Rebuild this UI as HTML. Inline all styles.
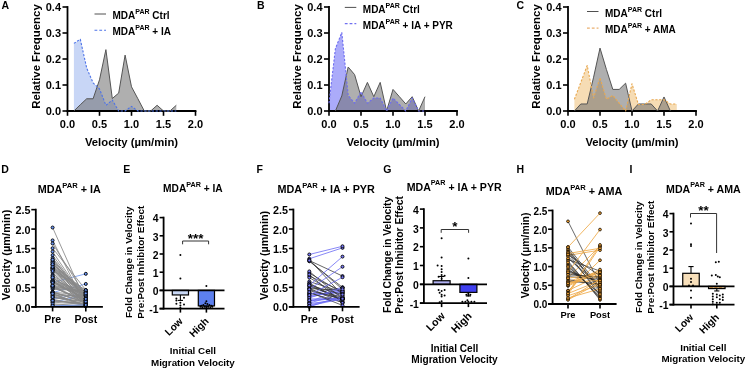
<!DOCTYPE html>
<html><head><meta charset="utf-8"><style>
html,body{margin:0;padding:0;background:#fff;}
svg{display:block;filter:blur(0.35px);}
text{font-family:"Liberation Sans", sans-serif;}
</style></head><body>
<svg width="747" height="370" viewBox="0 0 747 370">
<rect width="747" height="370" fill="#fff"/>
<text x="1.50" y="9.00" font-size="10.5" text-anchor="start" font-weight="bold" fill="#000">A</text>
<polygon points="73.90,111.00 73.90,43.40 80.30,39.24 86.70,68.10 93.10,82.92 99.50,88.90 105.90,105.28 112.30,100.08 118.70,111.00 125.10,111.00 131.50,106.32 137.90,111.00 144.30,111.00 150.70,111.00 157.10,111.00 163.50,111.00 169.90,111.00 176.30,111.00 176.30,111.00" fill="#c8d6f6" fill-opacity="1"/>
<polygon points="73.90,111.00 73.90,111.00 80.30,104.76 86.70,98.78 93.10,98.78 99.50,79.80 105.90,49.64 112.30,98.52 118.70,93.06 125.10,55.10 131.50,86.82 137.90,98.78 144.30,111.00 150.70,111.00 157.10,105.28 163.50,111.00 169.90,111.00 176.30,105.28 176.30,111.00" fill="#6e6e6e" fill-opacity="0.55"/>
<line x1="67.50" y1="111.90" x2="67.50" y2="6.10" stroke="#000" stroke-width="1.8"/>
<line x1="66.60" y1="111.00" x2="196.40" y2="111.00" stroke="#000" stroke-width="1.8"/>
<polyline points="73.90,111.00 80.30,104.76 86.70,98.78 93.10,98.78 99.50,79.80 105.90,49.64 112.30,98.52 118.70,93.06 125.10,55.10 131.50,86.82 137.90,98.78 144.30,111.00 150.70,111.00 157.10,105.28 163.50,111.00 169.90,111.00 176.30,105.28" fill="none" stroke="#555" stroke-width="1.0" stroke-linejoin="round"/>
<polyline points="73.90,43.40 80.30,39.24 86.70,68.10 93.10,82.92 99.50,88.90 105.90,105.28 112.30,100.08 118.70,111.00 125.10,111.00 131.50,106.32 137.90,111.00 144.30,111.00 150.70,111.00 157.10,111.00 163.50,111.00 169.90,111.00 176.30,111.00" fill="none" stroke="#4d73e8" stroke-width="1.1" stroke-dasharray="2.2,1.6" stroke-linejoin="round"/>
<line x1="62.50" y1="111.00" x2="67.50" y2="111.00" stroke="#000" stroke-width="1.6"/>
<text x="61.00" y="115.20" font-size="11" text-anchor="end" font-weight="bold" fill="#000">0.0</text>
<line x1="62.50" y1="85.00" x2="67.50" y2="85.00" stroke="#000" stroke-width="1.6"/>
<text x="61.00" y="89.20" font-size="11" text-anchor="end" font-weight="bold" fill="#000">0.1</text>
<line x1="62.50" y1="59.00" x2="67.50" y2="59.00" stroke="#000" stroke-width="1.6"/>
<text x="61.00" y="63.20" font-size="11" text-anchor="end" font-weight="bold" fill="#000">0.2</text>
<line x1="62.50" y1="33.00" x2="67.50" y2="33.00" stroke="#000" stroke-width="1.6"/>
<text x="61.00" y="37.20" font-size="11" text-anchor="end" font-weight="bold" fill="#000">0.3</text>
<line x1="62.50" y1="7.00" x2="67.50" y2="7.00" stroke="#000" stroke-width="1.6"/>
<text x="61.00" y="11.20" font-size="11" text-anchor="end" font-weight="bold" fill="#000">0.4</text>
<line x1="67.50" y1="111.00" x2="67.50" y2="115.80" stroke="#000" stroke-width="1.6"/>
<text x="67.50" y="128.40" font-size="11" text-anchor="middle" font-weight="bold" fill="#000">0.0</text>
<line x1="99.50" y1="111.00" x2="99.50" y2="115.80" stroke="#000" stroke-width="1.6"/>
<text x="99.50" y="128.40" font-size="11" text-anchor="middle" font-weight="bold" fill="#000">0.5</text>
<line x1="131.50" y1="111.00" x2="131.50" y2="115.80" stroke="#000" stroke-width="1.6"/>
<text x="131.50" y="128.40" font-size="11" text-anchor="middle" font-weight="bold" fill="#000">1.0</text>
<line x1="163.50" y1="111.00" x2="163.50" y2="115.80" stroke="#000" stroke-width="1.6"/>
<text x="163.50" y="128.40" font-size="11" text-anchor="middle" font-weight="bold" fill="#000">1.5</text>
<line x1="195.50" y1="111.00" x2="195.50" y2="115.80" stroke="#000" stroke-width="1.6"/>
<text x="195.50" y="128.40" font-size="11" text-anchor="middle" font-weight="bold" fill="#000">2.0</text>
<text x="131.50" y="146.20" font-size="11.3" text-anchor="middle" font-weight="bold" fill="#000">Velocity (µm/min)</text>
<text x="39.90" y="56.50" font-size="11.4" text-anchor="middle" font-weight="bold" fill="#000" transform="rotate(-90 39.9 56.5)">Relative Frequency</text>
<line x1="94.50" y1="14.00" x2="106.00" y2="14.00" stroke="#505050" stroke-width="1.0"/>
<text x="112.50" y="19.10" font-size="10" font-weight="bold" text-anchor="start">MDA<tspan font-size="7.00" dy="-5.00">PAR</tspan><tspan dy="5.00"> Ctrl</tspan></text>
<line x1="94.50" y1="30.20" x2="106.00" y2="30.20" stroke="#4d73e8" stroke-width="1.1" stroke-dasharray="2.8,2"/>
<text x="112.50" y="35.30" font-size="10" font-weight="bold" text-anchor="start">MDA<tspan font-size="7.00" dy="-5.00">PAR</tspan><tspan dy="5.00"> + IA</tspan></text>
<text x="257.00" y="9.00" font-size="10.5" text-anchor="start" font-weight="bold" fill="#000">B</text>
<polygon points="329.00,111.00 329.00,103.20 335.40,48.60 341.80,32.48 348.20,95.40 354.60,103.20 361.00,91.76 367.40,103.20 373.80,98.00 380.20,98.00 386.60,111.00 393.00,98.00 399.40,104.50 405.80,111.00 412.20,98.00 418.60,111.00 425.00,111.00 425.00,111.00" fill="#ababfa" fill-opacity="1"/>
<polygon points="335.40,111.00 335.40,111.00 341.80,95.92 348.20,67.06 354.60,74.60 361.00,96.70 367.40,82.40 373.80,96.70 380.20,82.40 386.60,111.00 393.00,89.42 399.40,96.70 405.80,103.98 412.20,96.70 418.60,111.00 425.00,96.70 425.00,111.00" fill="#6e6e6e" fill-opacity="0.55"/>
<line x1="329.00" y1="111.90" x2="329.00" y2="6.10" stroke="#000" stroke-width="1.8"/>
<line x1="328.10" y1="111.00" x2="457.90" y2="111.00" stroke="#000" stroke-width="1.8"/>
<polyline points="335.40,111.00 341.80,95.92 348.20,67.06 354.60,74.60 361.00,96.70 367.40,82.40 373.80,96.70 380.20,82.40 386.60,111.00 393.00,89.42 399.40,96.70 405.80,103.98 412.20,96.70 418.60,111.00 425.00,96.70" fill="none" stroke="#555" stroke-width="1.0" stroke-linejoin="round"/>
<polyline points="329.00,103.20 335.40,48.60 341.80,32.48 348.20,95.40 354.60,103.20 361.00,91.76 367.40,103.20 373.80,98.00 380.20,98.00 386.60,111.00 393.00,98.00 399.40,104.50 405.80,111.00 412.20,98.00 418.60,111.00 425.00,111.00" fill="none" stroke="#6c6cf0" stroke-width="1.1" stroke-dasharray="2.2,1.6" stroke-linejoin="round"/>
<line x1="324.00" y1="111.00" x2="329.00" y2="111.00" stroke="#000" stroke-width="1.6"/>
<text x="322.50" y="115.20" font-size="11" text-anchor="end" font-weight="bold" fill="#000">0.0</text>
<line x1="324.00" y1="85.00" x2="329.00" y2="85.00" stroke="#000" stroke-width="1.6"/>
<text x="322.50" y="89.20" font-size="11" text-anchor="end" font-weight="bold" fill="#000">0.1</text>
<line x1="324.00" y1="59.00" x2="329.00" y2="59.00" stroke="#000" stroke-width="1.6"/>
<text x="322.50" y="63.20" font-size="11" text-anchor="end" font-weight="bold" fill="#000">0.2</text>
<line x1="324.00" y1="33.00" x2="329.00" y2="33.00" stroke="#000" stroke-width="1.6"/>
<text x="322.50" y="37.20" font-size="11" text-anchor="end" font-weight="bold" fill="#000">0.3</text>
<line x1="324.00" y1="7.00" x2="329.00" y2="7.00" stroke="#000" stroke-width="1.6"/>
<text x="322.50" y="11.20" font-size="11" text-anchor="end" font-weight="bold" fill="#000">0.4</text>
<line x1="329.00" y1="111.00" x2="329.00" y2="115.80" stroke="#000" stroke-width="1.6"/>
<text x="329.00" y="128.40" font-size="11" text-anchor="middle" font-weight="bold" fill="#000">0.0</text>
<line x1="361.00" y1="111.00" x2="361.00" y2="115.80" stroke="#000" stroke-width="1.6"/>
<text x="361.00" y="128.40" font-size="11" text-anchor="middle" font-weight="bold" fill="#000">0.5</text>
<line x1="393.00" y1="111.00" x2="393.00" y2="115.80" stroke="#000" stroke-width="1.6"/>
<text x="393.00" y="128.40" font-size="11" text-anchor="middle" font-weight="bold" fill="#000">1.0</text>
<line x1="425.00" y1="111.00" x2="425.00" y2="115.80" stroke="#000" stroke-width="1.6"/>
<text x="425.00" y="128.40" font-size="11" text-anchor="middle" font-weight="bold" fill="#000">1.5</text>
<line x1="457.00" y1="111.00" x2="457.00" y2="115.80" stroke="#000" stroke-width="1.6"/>
<text x="457.00" y="128.40" font-size="11" text-anchor="middle" font-weight="bold" fill="#000">2.0</text>
<text x="393.00" y="146.20" font-size="11.3" text-anchor="middle" font-weight="bold" fill="#000">Velocity (µm/min)</text>
<text x="301.40" y="56.50" font-size="11.4" text-anchor="middle" font-weight="bold" fill="#000" transform="rotate(-90 301.4 56.5)">Relative Frequency</text>
<line x1="344.80" y1="7.40" x2="356.30" y2="7.40" stroke="#505050" stroke-width="1.0"/>
<text x="362.80" y="12.50" font-size="10" font-weight="bold" text-anchor="start">MDA<tspan font-size="7.00" dy="-5.00">PAR</tspan><tspan dy="5.00"> Ctrl</tspan></text>
<line x1="344.80" y1="23.60" x2="356.30" y2="23.60" stroke="#7070f0" stroke-width="1.1" stroke-dasharray="2.8,2"/>
<text x="362.80" y="28.70" font-size="10" font-weight="bold" text-anchor="start">MDA<tspan font-size="7.00" dy="-5.00">PAR</tspan><tspan dy="5.00"> + IA + PYR</tspan></text>
<text x="516.50" y="9.00" font-size="10.5" text-anchor="start" font-weight="bold" fill="#000">C</text>
<polygon points="574.40,111.00 574.40,99.30 580.80,82.40 587.20,65.50 593.60,98.00 600.00,77.72 606.40,99.30 612.80,95.40 619.20,103.20 625.60,111.00 632.00,83.70 638.40,104.50 644.80,104.50 651.20,99.82 657.60,99.82 664.00,99.82 670.40,103.98 676.80,103.98 676.80,111.00" fill="#f6dcb4" fill-opacity="1"/>
<polygon points="574.40,111.00 574.40,111.00 580.80,103.98 587.20,103.98 593.60,77.20 600.00,48.08 606.40,69.40 612.80,89.42 619.20,89.42 625.60,83.18 632.00,111.00 638.40,103.98 644.80,103.98 651.20,103.98 657.60,111.00 664.00,96.96 670.40,111.00 670.40,111.00" fill="#6e6e6e" fill-opacity="0.55"/>
<line x1="568.00" y1="111.90" x2="568.00" y2="6.10" stroke="#000" stroke-width="1.8"/>
<line x1="567.10" y1="111.00" x2="696.90" y2="111.00" stroke="#000" stroke-width="1.8"/>
<polyline points="574.40,111.00 580.80,103.98 587.20,103.98 593.60,77.20 600.00,48.08 606.40,69.40 612.80,89.42 619.20,89.42 625.60,83.18 632.00,111.00 638.40,103.98 644.80,103.98 651.20,103.98 657.60,111.00 664.00,96.96 670.40,111.00" fill="none" stroke="#555" stroke-width="1.0" stroke-linejoin="round"/>
<polyline points="574.40,99.30 580.80,82.40 587.20,65.50 593.60,98.00 600.00,77.72 606.40,99.30 612.80,95.40 619.20,103.20 625.60,111.00 632.00,83.70 638.40,104.50 644.80,104.50 651.20,99.82 657.60,99.82 664.00,99.82 670.40,103.98 676.80,103.98" fill="none" stroke="#e8a850" stroke-width="1.1" stroke-dasharray="2.2,1.6" stroke-linejoin="round"/>
<line x1="563.00" y1="111.00" x2="568.00" y2="111.00" stroke="#000" stroke-width="1.6"/>
<text x="561.50" y="115.20" font-size="11" text-anchor="end" font-weight="bold" fill="#000">0.0</text>
<line x1="563.00" y1="85.00" x2="568.00" y2="85.00" stroke="#000" stroke-width="1.6"/>
<text x="561.50" y="89.20" font-size="11" text-anchor="end" font-weight="bold" fill="#000">0.1</text>
<line x1="563.00" y1="59.00" x2="568.00" y2="59.00" stroke="#000" stroke-width="1.6"/>
<text x="561.50" y="63.20" font-size="11" text-anchor="end" font-weight="bold" fill="#000">0.2</text>
<line x1="563.00" y1="33.00" x2="568.00" y2="33.00" stroke="#000" stroke-width="1.6"/>
<text x="561.50" y="37.20" font-size="11" text-anchor="end" font-weight="bold" fill="#000">0.3</text>
<line x1="563.00" y1="7.00" x2="568.00" y2="7.00" stroke="#000" stroke-width="1.6"/>
<text x="561.50" y="11.20" font-size="11" text-anchor="end" font-weight="bold" fill="#000">0.4</text>
<line x1="568.00" y1="111.00" x2="568.00" y2="115.80" stroke="#000" stroke-width="1.6"/>
<text x="568.00" y="128.40" font-size="11" text-anchor="middle" font-weight="bold" fill="#000">0.0</text>
<line x1="600.00" y1="111.00" x2="600.00" y2="115.80" stroke="#000" stroke-width="1.6"/>
<text x="600.00" y="128.40" font-size="11" text-anchor="middle" font-weight="bold" fill="#000">0.5</text>
<line x1="632.00" y1="111.00" x2="632.00" y2="115.80" stroke="#000" stroke-width="1.6"/>
<text x="632.00" y="128.40" font-size="11" text-anchor="middle" font-weight="bold" fill="#000">1.0</text>
<line x1="664.00" y1="111.00" x2="664.00" y2="115.80" stroke="#000" stroke-width="1.6"/>
<text x="664.00" y="128.40" font-size="11" text-anchor="middle" font-weight="bold" fill="#000">1.5</text>
<line x1="696.00" y1="111.00" x2="696.00" y2="115.80" stroke="#000" stroke-width="1.6"/>
<text x="696.00" y="128.40" font-size="11" text-anchor="middle" font-weight="bold" fill="#000">2.0</text>
<text x="632.00" y="146.20" font-size="11.3" text-anchor="middle" font-weight="bold" fill="#000">Velocity (µm/min)</text>
<text x="540.40" y="56.50" font-size="11.4" text-anchor="middle" font-weight="bold" fill="#000" transform="rotate(-90 540.4 56.5)">Relative Frequency</text>
<line x1="587.00" y1="11.50" x2="598.50" y2="11.50" stroke="#505050" stroke-width="1.0"/>
<text x="605.00" y="16.60" font-size="10" font-weight="bold" text-anchor="start">MDA<tspan font-size="7.00" dy="-5.00">PAR</tspan><tspan dy="5.00"> Ctrl</tspan></text>
<line x1="587.00" y1="28.10" x2="598.50" y2="28.10" stroke="#eab070" stroke-width="1.1" stroke-dasharray="2.8,2"/>
<text x="605.00" y="33.20" font-size="10" font-weight="bold" text-anchor="start">MDA<tspan font-size="7.00" dy="-5.00">PAR</tspan><tspan dy="5.00"> + AMA</tspan></text>
<text x="1.20" y="172.60" font-size="10.5" text-anchor="start" font-weight="bold" fill="#000">D</text>
<text x="69.25" y="193.00" font-size="10.8" font-weight="bold" text-anchor="middle">MDA<tspan font-size="7.60" dy="-5.00">PAR</tspan><tspan dy="5.00"> + IA</tspan></text>
<line x1="52.60" y1="282.39" x2="85.80" y2="273.83" stroke="#6a93f0" stroke-width="0.8"/>
<line x1="52.60" y1="292.51" x2="85.80" y2="283.95" stroke="#6a93f0" stroke-width="0.8"/>
<line x1="52.60" y1="289.39" x2="85.80" y2="290.56" stroke="#888888" stroke-width="0.85"/>
<line x1="52.60" y1="302.23" x2="85.80" y2="295.23" stroke="#6a93f0" stroke-width="0.8"/>
<line x1="52.60" y1="299.12" x2="85.80" y2="292.90" stroke="#6a93f0" stroke-width="0.8"/>
<line x1="52.60" y1="227.54" x2="85.80" y2="301.84" stroke="#888888" stroke-width="0.85"/>
<line x1="52.60" y1="240.38" x2="85.80" y2="305.66" stroke="#888888" stroke-width="0.85"/>
<line x1="52.60" y1="243.49" x2="85.80" y2="296.18" stroke="#888888" stroke-width="0.85"/>
<line x1="52.60" y1="248.16" x2="85.80" y2="289.96" stroke="#888888" stroke-width="0.85"/>
<line x1="52.60" y1="251.66" x2="85.80" y2="300.41" stroke="#888888" stroke-width="0.85"/>
<line x1="52.60" y1="255.16" x2="85.80" y2="300.49" stroke="#888888" stroke-width="0.85"/>
<line x1="52.60" y1="257.89" x2="85.80" y2="299.45" stroke="#888888" stroke-width="0.85"/>
<line x1="52.60" y1="295.17" x2="85.80" y2="295.55" stroke="#888888" stroke-width="0.85"/>
<line x1="52.60" y1="272.72" x2="85.80" y2="304.41" stroke="#888888" stroke-width="0.85"/>
<line x1="52.60" y1="275.06" x2="85.80" y2="298.36" stroke="#888888" stroke-width="0.85"/>
<line x1="52.60" y1="281.73" x2="85.80" y2="299.34" stroke="#888888" stroke-width="0.85"/>
<line x1="52.60" y1="292.99" x2="85.80" y2="298.10" stroke="#888888" stroke-width="0.85"/>
<line x1="52.60" y1="268.32" x2="85.80" y2="304.87" stroke="#888888" stroke-width="0.85"/>
<line x1="52.60" y1="267.66" x2="85.80" y2="304.98" stroke="#888888" stroke-width="0.85"/>
<line x1="52.60" y1="280.30" x2="85.80" y2="302.76" stroke="#888888" stroke-width="0.85"/>
<line x1="52.60" y1="280.62" x2="85.80" y2="291.54" stroke="#888888" stroke-width="0.85"/>
<line x1="52.60" y1="292.13" x2="85.80" y2="302.79" stroke="#888888" stroke-width="0.85"/>
<line x1="52.60" y1="302.10" x2="85.80" y2="304.50" stroke="#888888" stroke-width="0.85"/>
<line x1="52.60" y1="286.35" x2="85.80" y2="303.35" stroke="#888888" stroke-width="0.85"/>
<line x1="52.60" y1="277.18" x2="85.80" y2="305.58" stroke="#888888" stroke-width="0.85"/>
<line x1="52.60" y1="299.27" x2="85.80" y2="305.85" stroke="#888888" stroke-width="0.85"/>
<line x1="52.60" y1="268.27" x2="85.80" y2="294.13" stroke="#888888" stroke-width="0.85"/>
<line x1="52.60" y1="292.29" x2="85.80" y2="294.93" stroke="#888888" stroke-width="0.85"/>
<line x1="52.60" y1="292.27" x2="85.80" y2="302.37" stroke="#888888" stroke-width="0.85"/>
<line x1="52.60" y1="300.42" x2="85.80" y2="303.66" stroke="#888888" stroke-width="0.85"/>
<line x1="52.60" y1="259.55" x2="85.80" y2="297.04" stroke="#888888" stroke-width="0.85"/>
<line x1="52.60" y1="270.62" x2="85.80" y2="292.20" stroke="#888888" stroke-width="0.85"/>
<line x1="52.60" y1="264.79" x2="85.80" y2="290.80" stroke="#888888" stroke-width="0.85"/>
<line x1="52.60" y1="275.88" x2="85.80" y2="301.88" stroke="#888888" stroke-width="0.85"/>
<line x1="52.60" y1="300.77" x2="85.80" y2="303.84" stroke="#888888" stroke-width="0.85"/>
<line x1="52.60" y1="288.16" x2="85.80" y2="290.72" stroke="#888888" stroke-width="0.85"/>
<line x1="52.60" y1="280.94" x2="85.80" y2="298.71" stroke="#888888" stroke-width="0.85"/>
<line x1="52.60" y1="297.28" x2="85.80" y2="302.09" stroke="#888888" stroke-width="0.85"/>
<line x1="52.60" y1="261.50" x2="85.80" y2="300.50" stroke="#888888" stroke-width="0.85"/>
<line x1="52.60" y1="286.47" x2="85.80" y2="302.36" stroke="#888888" stroke-width="0.85"/>
<line x1="52.60" y1="295.61" x2="85.80" y2="304.11" stroke="#888888" stroke-width="0.85"/>
<line x1="52.60" y1="267.25" x2="85.80" y2="292.72" stroke="#888888" stroke-width="0.85"/>
<line x1="52.60" y1="296.89" x2="85.80" y2="305.05" stroke="#888888" stroke-width="0.85"/>
<line x1="52.60" y1="262.53" x2="85.80" y2="305.82" stroke="#888888" stroke-width="0.85"/>
<line x1="52.60" y1="282.84" x2="85.80" y2="294.32" stroke="#888888" stroke-width="0.85"/>
<line x1="52.60" y1="278.61" x2="85.80" y2="295.00" stroke="#888888" stroke-width="0.85"/>
<line x1="52.60" y1="287.56" x2="85.80" y2="300.63" stroke="#888888" stroke-width="0.85"/>
<line x1="52.60" y1="281.49" x2="85.80" y2="293.61" stroke="#888888" stroke-width="0.85"/>
<line x1="52.60" y1="294.23" x2="85.80" y2="305.93" stroke="#888888" stroke-width="0.85"/>
<line x1="52.60" y1="300.64" x2="85.80" y2="303.98" stroke="#888888" stroke-width="0.85"/>
<line x1="52.60" y1="265.18" x2="85.80" y2="303.57" stroke="#888888" stroke-width="0.85"/>
<line x1="52.60" y1="292.18" x2="85.80" y2="301.68" stroke="#888888" stroke-width="0.85"/>
<line x1="52.60" y1="268.84" x2="85.80" y2="304.97" stroke="#888888" stroke-width="0.85"/>
<line x1="52.60" y1="293.31" x2="85.80" y2="305.82" stroke="#888888" stroke-width="0.85"/>
<line x1="52.60" y1="260.78" x2="85.80" y2="302.91" stroke="#888888" stroke-width="0.85"/>
<line x1="52.60" y1="263.98" x2="85.80" y2="292.19" stroke="#888888" stroke-width="0.85"/>
<line x1="52.60" y1="269.93" x2="85.80" y2="290.19" stroke="#888888" stroke-width="0.85"/>
<line x1="52.60" y1="269.59" x2="85.80" y2="295.60" stroke="#888888" stroke-width="0.85"/>
<line x1="52.60" y1="277.38" x2="85.80" y2="300.71" stroke="#888888" stroke-width="0.85"/>
<line x1="52.60" y1="271.01" x2="85.80" y2="304.05" stroke="#888888" stroke-width="0.85"/>
<line x1="52.60" y1="296.99" x2="85.80" y2="301.95" stroke="#888888" stroke-width="0.85"/>
<line x1="52.60" y1="281.85" x2="85.80" y2="299.90" stroke="#888888" stroke-width="0.85"/>
<line x1="52.60" y1="266.84" x2="85.80" y2="295.96" stroke="#888888" stroke-width="0.85"/>
<line x1="52.60" y1="293.63" x2="85.80" y2="306.04" stroke="#888888" stroke-width="0.85"/>
<line x1="52.60" y1="262.73" x2="85.80" y2="304.53" stroke="#888888" stroke-width="0.85"/>
<line x1="52.60" y1="264.25" x2="85.80" y2="293.58" stroke="#888888" stroke-width="0.85"/>
<line x1="52.60" y1="284.71" x2="85.80" y2="294.54" stroke="#888888" stroke-width="0.85"/>
<line x1="52.60" y1="286.60" x2="85.80" y2="292.60" stroke="#888888" stroke-width="0.85"/>
<line x1="52.60" y1="282.92" x2="85.80" y2="298.50" stroke="#888888" stroke-width="0.85"/>
<line x1="52.60" y1="285.72" x2="85.80" y2="301.58" stroke="#888888" stroke-width="0.85"/>
<line x1="52.60" y1="259.66" x2="85.80" y2="298.88" stroke="#888888" stroke-width="0.85"/>
<line x1="52.60" y1="285.69" x2="85.80" y2="293.33" stroke="#888888" stroke-width="0.85"/>
<line x1="52.60" y1="304.95" x2="85.80" y2="305.73" stroke="#888888" stroke-width="0.85"/>
<line x1="52.60" y1="303.79" x2="85.80" y2="306.12" stroke="#888888" stroke-width="0.85"/>
<line x1="52.60" y1="305.73" x2="85.80" y2="304.95" stroke="#6a93f0" stroke-width="0.8"/>
<circle cx="52.60" cy="282.39" r="1.5" fill="#6a96f8" stroke="#000" stroke-width="0.9"/>
<circle cx="85.80" cy="273.83" r="1.5" fill="#6a96f8" stroke="#000" stroke-width="0.9"/>
<circle cx="52.60" cy="292.51" r="1.5" fill="#6a96f8" stroke="#000" stroke-width="0.9"/>
<circle cx="85.80" cy="283.95" r="1.5" fill="#6a96f8" stroke="#000" stroke-width="0.9"/>
<circle cx="52.60" cy="289.39" r="1.5" fill="#6a96f8" stroke="#000" stroke-width="0.9"/>
<circle cx="85.80" cy="290.56" r="1.5" fill="#6a96f8" stroke="#000" stroke-width="0.9"/>
<circle cx="52.60" cy="302.23" r="1.5" fill="#6a96f8" stroke="#000" stroke-width="0.9"/>
<circle cx="85.80" cy="295.23" r="1.5" fill="#6a96f8" stroke="#000" stroke-width="0.9"/>
<circle cx="52.60" cy="299.12" r="1.5" fill="#6a96f8" stroke="#000" stroke-width="0.9"/>
<circle cx="85.80" cy="292.90" r="1.5" fill="#6a96f8" stroke="#000" stroke-width="0.9"/>
<circle cx="52.60" cy="227.54" r="1.5" fill="#6a96f8" stroke="#000" stroke-width="0.9"/>
<circle cx="85.80" cy="301.84" r="1.5" fill="#6a96f8" stroke="#000" stroke-width="0.9"/>
<circle cx="52.60" cy="240.38" r="1.5" fill="#6a96f8" stroke="#000" stroke-width="0.9"/>
<circle cx="85.80" cy="305.66" r="1.5" fill="#6a96f8" stroke="#000" stroke-width="0.9"/>
<circle cx="52.60" cy="243.49" r="1.5" fill="#6a96f8" stroke="#000" stroke-width="0.9"/>
<circle cx="85.80" cy="296.18" r="1.5" fill="#6a96f8" stroke="#000" stroke-width="0.9"/>
<circle cx="52.60" cy="248.16" r="1.5" fill="#6a96f8" stroke="#000" stroke-width="0.9"/>
<circle cx="85.80" cy="289.96" r="1.5" fill="#6a96f8" stroke="#000" stroke-width="0.9"/>
<circle cx="52.60" cy="251.66" r="1.5" fill="#6a96f8" stroke="#000" stroke-width="0.9"/>
<circle cx="85.80" cy="300.41" r="1.5" fill="#6a96f8" stroke="#000" stroke-width="0.9"/>
<circle cx="52.60" cy="255.16" r="1.5" fill="#6a96f8" stroke="#000" stroke-width="0.9"/>
<circle cx="85.80" cy="300.49" r="1.5" fill="#6a96f8" stroke="#000" stroke-width="0.9"/>
<circle cx="52.60" cy="257.89" r="1.5" fill="#6a96f8" stroke="#000" stroke-width="0.9"/>
<circle cx="85.80" cy="299.45" r="1.5" fill="#6a96f8" stroke="#000" stroke-width="0.9"/>
<circle cx="52.60" cy="295.17" r="1.5" fill="#6a96f8" stroke="#000" stroke-width="0.9"/>
<circle cx="85.80" cy="295.55" r="1.5" fill="#6a96f8" stroke="#000" stroke-width="0.9"/>
<circle cx="52.60" cy="272.72" r="1.5" fill="#6a96f8" stroke="#000" stroke-width="0.9"/>
<circle cx="85.80" cy="304.41" r="1.5" fill="#6a96f8" stroke="#000" stroke-width="0.9"/>
<circle cx="52.60" cy="275.06" r="1.5" fill="#6a96f8" stroke="#000" stroke-width="0.9"/>
<circle cx="85.80" cy="298.36" r="1.5" fill="#6a96f8" stroke="#000" stroke-width="0.9"/>
<circle cx="52.60" cy="281.73" r="1.5" fill="#6a96f8" stroke="#000" stroke-width="0.9"/>
<circle cx="85.80" cy="299.34" r="1.5" fill="#6a96f8" stroke="#000" stroke-width="0.9"/>
<circle cx="52.60" cy="292.99" r="1.5" fill="#6a96f8" stroke="#000" stroke-width="0.9"/>
<circle cx="85.80" cy="298.10" r="1.5" fill="#6a96f8" stroke="#000" stroke-width="0.9"/>
<circle cx="52.60" cy="268.32" r="1.5" fill="#6a96f8" stroke="#000" stroke-width="0.9"/>
<circle cx="85.80" cy="304.87" r="1.5" fill="#6a96f8" stroke="#000" stroke-width="0.9"/>
<circle cx="52.60" cy="267.66" r="1.5" fill="#6a96f8" stroke="#000" stroke-width="0.9"/>
<circle cx="85.80" cy="304.98" r="1.5" fill="#6a96f8" stroke="#000" stroke-width="0.9"/>
<circle cx="52.60" cy="280.30" r="1.5" fill="#6a96f8" stroke="#000" stroke-width="0.9"/>
<circle cx="85.80" cy="302.76" r="1.5" fill="#6a96f8" stroke="#000" stroke-width="0.9"/>
<circle cx="52.60" cy="280.62" r="1.5" fill="#6a96f8" stroke="#000" stroke-width="0.9"/>
<circle cx="85.80" cy="291.54" r="1.5" fill="#6a96f8" stroke="#000" stroke-width="0.9"/>
<circle cx="52.60" cy="292.13" r="1.5" fill="#6a96f8" stroke="#000" stroke-width="0.9"/>
<circle cx="85.80" cy="302.79" r="1.5" fill="#6a96f8" stroke="#000" stroke-width="0.9"/>
<circle cx="52.60" cy="302.10" r="1.5" fill="#6a96f8" stroke="#000" stroke-width="0.9"/>
<circle cx="85.80" cy="304.50" r="1.5" fill="#6a96f8" stroke="#000" stroke-width="0.9"/>
<circle cx="52.60" cy="286.35" r="1.5" fill="#6a96f8" stroke="#000" stroke-width="0.9"/>
<circle cx="85.80" cy="303.35" r="1.5" fill="#6a96f8" stroke="#000" stroke-width="0.9"/>
<circle cx="52.60" cy="277.18" r="1.5" fill="#6a96f8" stroke="#000" stroke-width="0.9"/>
<circle cx="85.80" cy="305.58" r="1.5" fill="#6a96f8" stroke="#000" stroke-width="0.9"/>
<circle cx="52.60" cy="299.27" r="1.5" fill="#6a96f8" stroke="#000" stroke-width="0.9"/>
<circle cx="85.80" cy="305.85" r="1.5" fill="#6a96f8" stroke="#000" stroke-width="0.9"/>
<circle cx="52.60" cy="268.27" r="1.5" fill="#6a96f8" stroke="#000" stroke-width="0.9"/>
<circle cx="85.80" cy="294.13" r="1.5" fill="#6a96f8" stroke="#000" stroke-width="0.9"/>
<circle cx="52.60" cy="292.29" r="1.5" fill="#6a96f8" stroke="#000" stroke-width="0.9"/>
<circle cx="85.80" cy="294.93" r="1.5" fill="#6a96f8" stroke="#000" stroke-width="0.9"/>
<circle cx="52.60" cy="292.27" r="1.5" fill="#6a96f8" stroke="#000" stroke-width="0.9"/>
<circle cx="85.80" cy="302.37" r="1.5" fill="#6a96f8" stroke="#000" stroke-width="0.9"/>
<circle cx="52.60" cy="300.42" r="1.5" fill="#6a96f8" stroke="#000" stroke-width="0.9"/>
<circle cx="85.80" cy="303.66" r="1.5" fill="#6a96f8" stroke="#000" stroke-width="0.9"/>
<circle cx="52.60" cy="259.55" r="1.5" fill="#6a96f8" stroke="#000" stroke-width="0.9"/>
<circle cx="85.80" cy="297.04" r="1.5" fill="#6a96f8" stroke="#000" stroke-width="0.9"/>
<circle cx="52.60" cy="270.62" r="1.5" fill="#6a96f8" stroke="#000" stroke-width="0.9"/>
<circle cx="85.80" cy="292.20" r="1.5" fill="#6a96f8" stroke="#000" stroke-width="0.9"/>
<circle cx="52.60" cy="264.79" r="1.5" fill="#6a96f8" stroke="#000" stroke-width="0.9"/>
<circle cx="85.80" cy="290.80" r="1.5" fill="#6a96f8" stroke="#000" stroke-width="0.9"/>
<circle cx="52.60" cy="275.88" r="1.5" fill="#6a96f8" stroke="#000" stroke-width="0.9"/>
<circle cx="85.80" cy="301.88" r="1.5" fill="#6a96f8" stroke="#000" stroke-width="0.9"/>
<circle cx="52.60" cy="300.77" r="1.5" fill="#6a96f8" stroke="#000" stroke-width="0.9"/>
<circle cx="85.80" cy="303.84" r="1.5" fill="#6a96f8" stroke="#000" stroke-width="0.9"/>
<circle cx="52.60" cy="288.16" r="1.5" fill="#6a96f8" stroke="#000" stroke-width="0.9"/>
<circle cx="85.80" cy="290.72" r="1.5" fill="#6a96f8" stroke="#000" stroke-width="0.9"/>
<circle cx="52.60" cy="280.94" r="1.5" fill="#6a96f8" stroke="#000" stroke-width="0.9"/>
<circle cx="85.80" cy="298.71" r="1.5" fill="#6a96f8" stroke="#000" stroke-width="0.9"/>
<circle cx="52.60" cy="297.28" r="1.5" fill="#6a96f8" stroke="#000" stroke-width="0.9"/>
<circle cx="85.80" cy="302.09" r="1.5" fill="#6a96f8" stroke="#000" stroke-width="0.9"/>
<circle cx="52.60" cy="261.50" r="1.5" fill="#6a96f8" stroke="#000" stroke-width="0.9"/>
<circle cx="85.80" cy="300.50" r="1.5" fill="#6a96f8" stroke="#000" stroke-width="0.9"/>
<circle cx="52.60" cy="286.47" r="1.5" fill="#6a96f8" stroke="#000" stroke-width="0.9"/>
<circle cx="85.80" cy="302.36" r="1.5" fill="#6a96f8" stroke="#000" stroke-width="0.9"/>
<circle cx="52.60" cy="295.61" r="1.5" fill="#6a96f8" stroke="#000" stroke-width="0.9"/>
<circle cx="85.80" cy="304.11" r="1.5" fill="#6a96f8" stroke="#000" stroke-width="0.9"/>
<circle cx="52.60" cy="267.25" r="1.5" fill="#6a96f8" stroke="#000" stroke-width="0.9"/>
<circle cx="85.80" cy="292.72" r="1.5" fill="#6a96f8" stroke="#000" stroke-width="0.9"/>
<circle cx="52.60" cy="296.89" r="1.5" fill="#6a96f8" stroke="#000" stroke-width="0.9"/>
<circle cx="85.80" cy="305.05" r="1.5" fill="#6a96f8" stroke="#000" stroke-width="0.9"/>
<circle cx="52.60" cy="262.53" r="1.5" fill="#6a96f8" stroke="#000" stroke-width="0.9"/>
<circle cx="85.80" cy="305.82" r="1.5" fill="#6a96f8" stroke="#000" stroke-width="0.9"/>
<circle cx="52.60" cy="282.84" r="1.5" fill="#6a96f8" stroke="#000" stroke-width="0.9"/>
<circle cx="85.80" cy="294.32" r="1.5" fill="#6a96f8" stroke="#000" stroke-width="0.9"/>
<circle cx="52.60" cy="278.61" r="1.5" fill="#6a96f8" stroke="#000" stroke-width="0.9"/>
<circle cx="85.80" cy="295.00" r="1.5" fill="#6a96f8" stroke="#000" stroke-width="0.9"/>
<circle cx="52.60" cy="287.56" r="1.5" fill="#6a96f8" stroke="#000" stroke-width="0.9"/>
<circle cx="85.80" cy="300.63" r="1.5" fill="#6a96f8" stroke="#000" stroke-width="0.9"/>
<circle cx="52.60" cy="281.49" r="1.5" fill="#6a96f8" stroke="#000" stroke-width="0.9"/>
<circle cx="85.80" cy="293.61" r="1.5" fill="#6a96f8" stroke="#000" stroke-width="0.9"/>
<circle cx="52.60" cy="294.23" r="1.5" fill="#6a96f8" stroke="#000" stroke-width="0.9"/>
<circle cx="85.80" cy="305.93" r="1.5" fill="#6a96f8" stroke="#000" stroke-width="0.9"/>
<circle cx="52.60" cy="300.64" r="1.5" fill="#6a96f8" stroke="#000" stroke-width="0.9"/>
<circle cx="85.80" cy="303.98" r="1.5" fill="#6a96f8" stroke="#000" stroke-width="0.9"/>
<circle cx="52.60" cy="265.18" r="1.5" fill="#6a96f8" stroke="#000" stroke-width="0.9"/>
<circle cx="85.80" cy="303.57" r="1.5" fill="#6a96f8" stroke="#000" stroke-width="0.9"/>
<circle cx="52.60" cy="292.18" r="1.5" fill="#6a96f8" stroke="#000" stroke-width="0.9"/>
<circle cx="85.80" cy="301.68" r="1.5" fill="#6a96f8" stroke="#000" stroke-width="0.9"/>
<circle cx="52.60" cy="268.84" r="1.5" fill="#6a96f8" stroke="#000" stroke-width="0.9"/>
<circle cx="85.80" cy="304.97" r="1.5" fill="#6a96f8" stroke="#000" stroke-width="0.9"/>
<circle cx="52.60" cy="293.31" r="1.5" fill="#6a96f8" stroke="#000" stroke-width="0.9"/>
<circle cx="85.80" cy="305.82" r="1.5" fill="#6a96f8" stroke="#000" stroke-width="0.9"/>
<circle cx="52.60" cy="260.78" r="1.5" fill="#6a96f8" stroke="#000" stroke-width="0.9"/>
<circle cx="85.80" cy="302.91" r="1.5" fill="#6a96f8" stroke="#000" stroke-width="0.9"/>
<circle cx="52.60" cy="263.98" r="1.5" fill="#6a96f8" stroke="#000" stroke-width="0.9"/>
<circle cx="85.80" cy="292.19" r="1.5" fill="#6a96f8" stroke="#000" stroke-width="0.9"/>
<circle cx="52.60" cy="269.93" r="1.5" fill="#6a96f8" stroke="#000" stroke-width="0.9"/>
<circle cx="85.80" cy="290.19" r="1.5" fill="#6a96f8" stroke="#000" stroke-width="0.9"/>
<circle cx="52.60" cy="269.59" r="1.5" fill="#6a96f8" stroke="#000" stroke-width="0.9"/>
<circle cx="85.80" cy="295.60" r="1.5" fill="#6a96f8" stroke="#000" stroke-width="0.9"/>
<circle cx="52.60" cy="277.38" r="1.5" fill="#6a96f8" stroke="#000" stroke-width="0.9"/>
<circle cx="85.80" cy="300.71" r="1.5" fill="#6a96f8" stroke="#000" stroke-width="0.9"/>
<circle cx="52.60" cy="271.01" r="1.5" fill="#6a96f8" stroke="#000" stroke-width="0.9"/>
<circle cx="85.80" cy="304.05" r="1.5" fill="#6a96f8" stroke="#000" stroke-width="0.9"/>
<circle cx="52.60" cy="296.99" r="1.5" fill="#6a96f8" stroke="#000" stroke-width="0.9"/>
<circle cx="85.80" cy="301.95" r="1.5" fill="#6a96f8" stroke="#000" stroke-width="0.9"/>
<circle cx="52.60" cy="281.85" r="1.5" fill="#6a96f8" stroke="#000" stroke-width="0.9"/>
<circle cx="85.80" cy="299.90" r="1.5" fill="#6a96f8" stroke="#000" stroke-width="0.9"/>
<circle cx="52.60" cy="266.84" r="1.5" fill="#6a96f8" stroke="#000" stroke-width="0.9"/>
<circle cx="85.80" cy="295.96" r="1.5" fill="#6a96f8" stroke="#000" stroke-width="0.9"/>
<circle cx="52.60" cy="293.63" r="1.5" fill="#6a96f8" stroke="#000" stroke-width="0.9"/>
<circle cx="85.80" cy="306.04" r="1.5" fill="#6a96f8" stroke="#000" stroke-width="0.9"/>
<circle cx="52.60" cy="262.73" r="1.5" fill="#6a96f8" stroke="#000" stroke-width="0.9"/>
<circle cx="85.80" cy="304.53" r="1.5" fill="#6a96f8" stroke="#000" stroke-width="0.9"/>
<circle cx="52.60" cy="264.25" r="1.5" fill="#6a96f8" stroke="#000" stroke-width="0.9"/>
<circle cx="85.80" cy="293.58" r="1.5" fill="#6a96f8" stroke="#000" stroke-width="0.9"/>
<circle cx="52.60" cy="284.71" r="1.5" fill="#6a96f8" stroke="#000" stroke-width="0.9"/>
<circle cx="85.80" cy="294.54" r="1.5" fill="#6a96f8" stroke="#000" stroke-width="0.9"/>
<circle cx="52.60" cy="286.60" r="1.5" fill="#6a96f8" stroke="#000" stroke-width="0.9"/>
<circle cx="85.80" cy="292.60" r="1.5" fill="#6a96f8" stroke="#000" stroke-width="0.9"/>
<circle cx="52.60" cy="282.92" r="1.5" fill="#6a96f8" stroke="#000" stroke-width="0.9"/>
<circle cx="85.80" cy="298.50" r="1.5" fill="#6a96f8" stroke="#000" stroke-width="0.9"/>
<circle cx="52.60" cy="285.72" r="1.5" fill="#6a96f8" stroke="#000" stroke-width="0.9"/>
<circle cx="85.80" cy="301.58" r="1.5" fill="#6a96f8" stroke="#000" stroke-width="0.9"/>
<circle cx="52.60" cy="259.66" r="1.5" fill="#6a96f8" stroke="#000" stroke-width="0.9"/>
<circle cx="85.80" cy="298.88" r="1.5" fill="#6a96f8" stroke="#000" stroke-width="0.9"/>
<circle cx="52.60" cy="285.69" r="1.5" fill="#6a96f8" stroke="#000" stroke-width="0.9"/>
<circle cx="85.80" cy="293.33" r="1.5" fill="#6a96f8" stroke="#000" stroke-width="0.9"/>
<circle cx="52.60" cy="304.95" r="1.5" fill="#6a96f8" stroke="#000" stroke-width="0.9"/>
<circle cx="85.80" cy="305.73" r="1.5" fill="#6a96f8" stroke="#000" stroke-width="0.9"/>
<circle cx="52.60" cy="303.79" r="1.5" fill="#6a96f8" stroke="#000" stroke-width="0.9"/>
<circle cx="85.80" cy="306.12" r="1.5" fill="#6a96f8" stroke="#000" stroke-width="0.9"/>
<circle cx="52.60" cy="305.73" r="1.5" fill="#6a96f8" stroke="#000" stroke-width="0.9"/>
<circle cx="85.80" cy="304.95" r="1.5" fill="#6a96f8" stroke="#000" stroke-width="0.9"/>
<line x1="35.80" y1="307.80" x2="35.80" y2="208.75" stroke="#000" stroke-width="1.8"/>
<line x1="31.30" y1="306.90" x2="102.90" y2="306.90" stroke="#000" stroke-width="1.8"/>
<line x1="31.30" y1="306.90" x2="35.80" y2="306.90" stroke="#000" stroke-width="1.6"/>
<text x="30.50" y="311.50" font-size="10.8" text-anchor="end" font-weight="bold" fill="#000">0.0</text>
<line x1="31.30" y1="287.45" x2="35.80" y2="287.45" stroke="#000" stroke-width="1.6"/>
<text x="30.50" y="292.05" font-size="10.8" text-anchor="end" font-weight="bold" fill="#000">0.5</text>
<line x1="31.30" y1="268.00" x2="35.80" y2="268.00" stroke="#000" stroke-width="1.6"/>
<text x="30.50" y="272.60" font-size="10.8" text-anchor="end" font-weight="bold" fill="#000">1.0</text>
<line x1="31.30" y1="248.55" x2="35.80" y2="248.55" stroke="#000" stroke-width="1.6"/>
<text x="30.50" y="253.15" font-size="10.8" text-anchor="end" font-weight="bold" fill="#000">1.5</text>
<line x1="31.30" y1="229.10" x2="35.80" y2="229.10" stroke="#000" stroke-width="1.6"/>
<text x="30.50" y="233.70" font-size="10.8" text-anchor="end" font-weight="bold" fill="#000">2.0</text>
<line x1="31.30" y1="209.65" x2="35.80" y2="209.65" stroke="#000" stroke-width="1.6"/>
<text x="30.50" y="214.25" font-size="10.8" text-anchor="end" font-weight="bold" fill="#000">2.5</text>
<line x1="52.60" y1="306.90" x2="52.60" y2="311.40" stroke="#000" stroke-width="1.6"/>
<line x1="85.80" y1="306.90" x2="85.80" y2="311.40" stroke="#000" stroke-width="1.6"/>
<text x="52.60" y="322.90" font-size="10.5" text-anchor="middle" font-weight="bold" fill="#000">Pre</text>
<text x="85.80" y="322.90" font-size="10.5" text-anchor="middle" font-weight="bold" fill="#000">Post</text>
<text x="10.00" y="254.97" font-size="11.0" text-anchor="middle" font-weight="bold" fill="#000" transform="rotate(-90 10.0 254.97499999999997)">Velocity (µm/min)</text>
<text x="256.50" y="172.60" font-size="10.5" text-anchor="start" font-weight="bold" fill="#000">F</text>
<text x="326.20" y="193.10" font-size="10.8" font-weight="bold" text-anchor="middle">MDA<tspan font-size="7.60" dy="-5.00">PAR</tspan><tspan dy="5.00"> + IA + PYR</tspan></text>
<line x1="309.30" y1="258.76" x2="342.50" y2="247.87" stroke="#6a6af4" stroke-width="0.8"/>
<line x1="309.30" y1="281.54" x2="342.50" y2="292.06" stroke="#333333" stroke-width="0.75"/>
<line x1="309.30" y1="294.46" x2="342.50" y2="287.43" stroke="#6a6af4" stroke-width="0.8"/>
<line x1="309.30" y1="288.52" x2="342.50" y2="290.32" stroke="#333333" stroke-width="0.75"/>
<line x1="309.30" y1="261.29" x2="342.50" y2="287.35" stroke="#333333" stroke-width="0.75"/>
<line x1="309.30" y1="272.96" x2="342.50" y2="293.19" stroke="#333333" stroke-width="0.75"/>
<line x1="309.30" y1="283.22" x2="342.50" y2="300.33" stroke="#333333" stroke-width="0.75"/>
<line x1="309.30" y1="260.51" x2="342.50" y2="276.07" stroke="#333333" stroke-width="0.75"/>
<line x1="309.30" y1="302.18" x2="342.50" y2="288.04" stroke="#6a6af4" stroke-width="0.8"/>
<line x1="309.30" y1="283.68" x2="342.50" y2="301.55" stroke="#333333" stroke-width="0.75"/>
<line x1="309.30" y1="293.59" x2="342.50" y2="293.03" stroke="#6a6af4" stroke-width="0.8"/>
<line x1="309.30" y1="271.40" x2="342.50" y2="299.02" stroke="#333333" stroke-width="0.75"/>
<line x1="309.30" y1="303.14" x2="342.50" y2="293.31" stroke="#6a6af4" stroke-width="0.8"/>
<line x1="309.30" y1="288.27" x2="342.50" y2="302.72" stroke="#333333" stroke-width="0.75"/>
<line x1="309.30" y1="296.83" x2="342.50" y2="290.61" stroke="#6a6af4" stroke-width="0.8"/>
<line x1="309.30" y1="285.51" x2="342.50" y2="299.07" stroke="#333333" stroke-width="0.75"/>
<line x1="309.30" y1="295.72" x2="342.50" y2="291.91" stroke="#6a6af4" stroke-width="0.8"/>
<line x1="309.30" y1="299.07" x2="342.50" y2="297.97" stroke="#6a6af4" stroke-width="0.8"/>
<line x1="309.30" y1="290.66" x2="342.50" y2="299.01" stroke="#333333" stroke-width="0.75"/>
<line x1="309.30" y1="286.56" x2="342.50" y2="297.66" stroke="#333333" stroke-width="0.75"/>
<line x1="309.30" y1="276.07" x2="342.50" y2="291.24" stroke="#333333" stroke-width="0.75"/>
<line x1="309.30" y1="300.71" x2="342.50" y2="298.21" stroke="#6a6af4" stroke-width="0.8"/>
<line x1="309.30" y1="277.62" x2="342.50" y2="297.07" stroke="#333333" stroke-width="0.75"/>
<line x1="309.30" y1="259.73" x2="342.50" y2="295.13" stroke="#333333" stroke-width="0.75"/>
<line x1="309.30" y1="297.87" x2="342.50" y2="287.91" stroke="#6a6af4" stroke-width="0.8"/>
<line x1="309.30" y1="293.00" x2="342.50" y2="302.33" stroke="#333333" stroke-width="0.75"/>
<line x1="309.30" y1="305.05" x2="342.50" y2="297.41" stroke="#6a6af4" stroke-width="0.8"/>
<line x1="309.30" y1="306.80" x2="342.50" y2="295.96" stroke="#6a6af4" stroke-width="0.8"/>
<line x1="309.30" y1="285.22" x2="342.50" y2="294.56" stroke="#333333" stroke-width="0.75"/>
<line x1="309.30" y1="303.58" x2="342.50" y2="299.50" stroke="#6a6af4" stroke-width="0.8"/>
<line x1="309.30" y1="300.21" x2="342.50" y2="298.78" stroke="#6a6af4" stroke-width="0.8"/>
<line x1="309.30" y1="274.51" x2="342.50" y2="302.91" stroke="#333333" stroke-width="0.75"/>
<line x1="309.30" y1="289.60" x2="342.50" y2="299.28" stroke="#333333" stroke-width="0.75"/>
<line x1="309.30" y1="292.03" x2="342.50" y2="305.43" stroke="#333333" stroke-width="0.75"/>
<line x1="309.30" y1="260.51" x2="342.50" y2="289.30" stroke="#333333" stroke-width="0.75"/>
<line x1="309.30" y1="254.48" x2="342.50" y2="246.27" stroke="#6a6af4" stroke-width="0.8"/>
<line x1="309.30" y1="285.41" x2="342.50" y2="256.62" stroke="#6a6af4" stroke-width="0.8"/>
<line x1="309.30" y1="305.83" x2="342.50" y2="298.66" stroke="#6a6af4" stroke-width="0.8"/>
<line x1="309.30" y1="295.13" x2="342.50" y2="277.24" stroke="#6a6af4" stroke-width="0.8"/>
<line x1="309.30" y1="289.30" x2="342.50" y2="266.73" stroke="#6a6af4" stroke-width="0.8"/>
<circle cx="309.30" cy="258.76" r="1.5" fill="#7a7aff" stroke="#000" stroke-width="0.9"/>
<circle cx="342.50" cy="247.87" r="1.5" fill="#7a7aff" stroke="#000" stroke-width="0.9"/>
<circle cx="309.30" cy="281.54" r="1.5" fill="#7a7aff" stroke="#000" stroke-width="0.9"/>
<circle cx="342.50" cy="292.06" r="1.5" fill="#7a7aff" stroke="#000" stroke-width="0.9"/>
<circle cx="309.30" cy="294.46" r="1.5" fill="#7a7aff" stroke="#000" stroke-width="0.9"/>
<circle cx="342.50" cy="287.43" r="1.5" fill="#7a7aff" stroke="#000" stroke-width="0.9"/>
<circle cx="309.30" cy="288.52" r="1.5" fill="#7a7aff" stroke="#000" stroke-width="0.9"/>
<circle cx="342.50" cy="290.32" r="1.5" fill="#7a7aff" stroke="#000" stroke-width="0.9"/>
<circle cx="309.30" cy="261.29" r="1.5" fill="#7a7aff" stroke="#000" stroke-width="0.9"/>
<circle cx="342.50" cy="287.35" r="1.5" fill="#7a7aff" stroke="#000" stroke-width="0.9"/>
<circle cx="309.30" cy="272.96" r="1.5" fill="#7a7aff" stroke="#000" stroke-width="0.9"/>
<circle cx="342.50" cy="293.19" r="1.5" fill="#7a7aff" stroke="#000" stroke-width="0.9"/>
<circle cx="309.30" cy="283.22" r="1.5" fill="#7a7aff" stroke="#000" stroke-width="0.9"/>
<circle cx="342.50" cy="300.33" r="1.5" fill="#7a7aff" stroke="#000" stroke-width="0.9"/>
<circle cx="309.30" cy="260.51" r="1.5" fill="#7a7aff" stroke="#000" stroke-width="0.9"/>
<circle cx="342.50" cy="276.07" r="1.5" fill="#7a7aff" stroke="#000" stroke-width="0.9"/>
<circle cx="309.30" cy="302.18" r="1.5" fill="#7a7aff" stroke="#000" stroke-width="0.9"/>
<circle cx="342.50" cy="288.04" r="1.5" fill="#7a7aff" stroke="#000" stroke-width="0.9"/>
<circle cx="309.30" cy="283.68" r="1.5" fill="#7a7aff" stroke="#000" stroke-width="0.9"/>
<circle cx="342.50" cy="301.55" r="1.5" fill="#7a7aff" stroke="#000" stroke-width="0.9"/>
<circle cx="309.30" cy="293.59" r="1.5" fill="#7a7aff" stroke="#000" stroke-width="0.9"/>
<circle cx="342.50" cy="293.03" r="1.5" fill="#7a7aff" stroke="#000" stroke-width="0.9"/>
<circle cx="309.30" cy="271.40" r="1.5" fill="#7a7aff" stroke="#000" stroke-width="0.9"/>
<circle cx="342.50" cy="299.02" r="1.5" fill="#7a7aff" stroke="#000" stroke-width="0.9"/>
<circle cx="309.30" cy="303.14" r="1.5" fill="#7a7aff" stroke="#000" stroke-width="0.9"/>
<circle cx="342.50" cy="293.31" r="1.5" fill="#7a7aff" stroke="#000" stroke-width="0.9"/>
<circle cx="309.30" cy="288.27" r="1.5" fill="#7a7aff" stroke="#000" stroke-width="0.9"/>
<circle cx="342.50" cy="302.72" r="1.5" fill="#7a7aff" stroke="#000" stroke-width="0.9"/>
<circle cx="309.30" cy="296.83" r="1.5" fill="#7a7aff" stroke="#000" stroke-width="0.9"/>
<circle cx="342.50" cy="290.61" r="1.5" fill="#7a7aff" stroke="#000" stroke-width="0.9"/>
<circle cx="309.30" cy="285.51" r="1.5" fill="#7a7aff" stroke="#000" stroke-width="0.9"/>
<circle cx="342.50" cy="299.07" r="1.5" fill="#7a7aff" stroke="#000" stroke-width="0.9"/>
<circle cx="309.30" cy="295.72" r="1.5" fill="#7a7aff" stroke="#000" stroke-width="0.9"/>
<circle cx="342.50" cy="291.91" r="1.5" fill="#7a7aff" stroke="#000" stroke-width="0.9"/>
<circle cx="309.30" cy="299.07" r="1.5" fill="#7a7aff" stroke="#000" stroke-width="0.9"/>
<circle cx="342.50" cy="297.97" r="1.5" fill="#7a7aff" stroke="#000" stroke-width="0.9"/>
<circle cx="309.30" cy="290.66" r="1.5" fill="#7a7aff" stroke="#000" stroke-width="0.9"/>
<circle cx="342.50" cy="299.01" r="1.5" fill="#7a7aff" stroke="#000" stroke-width="0.9"/>
<circle cx="309.30" cy="286.56" r="1.5" fill="#7a7aff" stroke="#000" stroke-width="0.9"/>
<circle cx="342.50" cy="297.66" r="1.5" fill="#7a7aff" stroke="#000" stroke-width="0.9"/>
<circle cx="309.30" cy="276.07" r="1.5" fill="#7a7aff" stroke="#000" stroke-width="0.9"/>
<circle cx="342.50" cy="291.24" r="1.5" fill="#7a7aff" stroke="#000" stroke-width="0.9"/>
<circle cx="309.30" cy="300.71" r="1.5" fill="#7a7aff" stroke="#000" stroke-width="0.9"/>
<circle cx="342.50" cy="298.21" r="1.5" fill="#7a7aff" stroke="#000" stroke-width="0.9"/>
<circle cx="309.30" cy="277.62" r="1.5" fill="#7a7aff" stroke="#000" stroke-width="0.9"/>
<circle cx="342.50" cy="297.07" r="1.5" fill="#7a7aff" stroke="#000" stroke-width="0.9"/>
<circle cx="309.30" cy="259.73" r="1.5" fill="#7a7aff" stroke="#000" stroke-width="0.9"/>
<circle cx="342.50" cy="295.13" r="1.5" fill="#7a7aff" stroke="#000" stroke-width="0.9"/>
<circle cx="309.30" cy="297.87" r="1.5" fill="#7a7aff" stroke="#000" stroke-width="0.9"/>
<circle cx="342.50" cy="287.91" r="1.5" fill="#7a7aff" stroke="#000" stroke-width="0.9"/>
<circle cx="309.30" cy="293.00" r="1.5" fill="#7a7aff" stroke="#000" stroke-width="0.9"/>
<circle cx="342.50" cy="302.33" r="1.5" fill="#7a7aff" stroke="#000" stroke-width="0.9"/>
<circle cx="309.30" cy="305.05" r="1.5" fill="#7a7aff" stroke="#000" stroke-width="0.9"/>
<circle cx="342.50" cy="297.41" r="1.5" fill="#7a7aff" stroke="#000" stroke-width="0.9"/>
<circle cx="309.30" cy="306.80" r="1.5" fill="#7a7aff" stroke="#000" stroke-width="0.9"/>
<circle cx="342.50" cy="295.96" r="1.5" fill="#7a7aff" stroke="#000" stroke-width="0.9"/>
<circle cx="309.30" cy="285.22" r="1.5" fill="#7a7aff" stroke="#000" stroke-width="0.9"/>
<circle cx="342.50" cy="294.56" r="1.5" fill="#7a7aff" stroke="#000" stroke-width="0.9"/>
<circle cx="309.30" cy="303.58" r="1.5" fill="#7a7aff" stroke="#000" stroke-width="0.9"/>
<circle cx="342.50" cy="299.50" r="1.5" fill="#7a7aff" stroke="#000" stroke-width="0.9"/>
<circle cx="309.30" cy="300.21" r="1.5" fill="#7a7aff" stroke="#000" stroke-width="0.9"/>
<circle cx="342.50" cy="298.78" r="1.5" fill="#7a7aff" stroke="#000" stroke-width="0.9"/>
<circle cx="309.30" cy="274.51" r="1.5" fill="#7a7aff" stroke="#000" stroke-width="0.9"/>
<circle cx="342.50" cy="302.91" r="1.5" fill="#7a7aff" stroke="#000" stroke-width="0.9"/>
<circle cx="309.30" cy="289.60" r="1.5" fill="#7a7aff" stroke="#000" stroke-width="0.9"/>
<circle cx="342.50" cy="299.28" r="1.5" fill="#7a7aff" stroke="#000" stroke-width="0.9"/>
<circle cx="309.30" cy="292.03" r="1.5" fill="#7a7aff" stroke="#000" stroke-width="0.9"/>
<circle cx="342.50" cy="305.43" r="1.5" fill="#7a7aff" stroke="#000" stroke-width="0.9"/>
<circle cx="309.30" cy="260.51" r="1.5" fill="#7a7aff" stroke="#000" stroke-width="0.9"/>
<circle cx="342.50" cy="289.30" r="1.5" fill="#7a7aff" stroke="#000" stroke-width="0.9"/>
<circle cx="309.30" cy="254.48" r="1.5" fill="#7a7aff" stroke="#000" stroke-width="0.9"/>
<circle cx="342.50" cy="246.27" r="1.5" fill="#7a7aff" stroke="#000" stroke-width="0.9"/>
<circle cx="309.30" cy="285.41" r="1.5" fill="#7a7aff" stroke="#000" stroke-width="0.9"/>
<circle cx="342.50" cy="256.62" r="1.5" fill="#7a7aff" stroke="#000" stroke-width="0.9"/>
<circle cx="309.30" cy="305.83" r="1.5" fill="#7a7aff" stroke="#000" stroke-width="0.9"/>
<circle cx="342.50" cy="298.66" r="1.5" fill="#7a7aff" stroke="#000" stroke-width="0.9"/>
<circle cx="309.30" cy="295.13" r="1.5" fill="#7a7aff" stroke="#000" stroke-width="0.9"/>
<circle cx="342.50" cy="277.24" r="1.5" fill="#7a7aff" stroke="#000" stroke-width="0.9"/>
<circle cx="309.30" cy="289.30" r="1.5" fill="#7a7aff" stroke="#000" stroke-width="0.9"/>
<circle cx="342.50" cy="266.73" r="1.5" fill="#7a7aff" stroke="#000" stroke-width="0.9"/>
<line x1="293.40" y1="307.70" x2="293.40" y2="208.65" stroke="#000" stroke-width="1.8"/>
<line x1="288.90" y1="306.80" x2="359.60" y2="306.80" stroke="#000" stroke-width="1.8"/>
<line x1="288.90" y1="306.80" x2="293.40" y2="306.80" stroke="#000" stroke-width="1.6"/>
<text x="288.10" y="311.40" font-size="10.8" text-anchor="end" font-weight="bold" fill="#000">0.0</text>
<line x1="288.90" y1="287.35" x2="293.40" y2="287.35" stroke="#000" stroke-width="1.6"/>
<text x="288.10" y="291.95" font-size="10.8" text-anchor="end" font-weight="bold" fill="#000">0.5</text>
<line x1="288.90" y1="267.90" x2="293.40" y2="267.90" stroke="#000" stroke-width="1.6"/>
<text x="288.10" y="272.50" font-size="10.8" text-anchor="end" font-weight="bold" fill="#000">1.0</text>
<line x1="288.90" y1="248.45" x2="293.40" y2="248.45" stroke="#000" stroke-width="1.6"/>
<text x="288.10" y="253.05" font-size="10.8" text-anchor="end" font-weight="bold" fill="#000">1.5</text>
<line x1="288.90" y1="229.00" x2="293.40" y2="229.00" stroke="#000" stroke-width="1.6"/>
<text x="288.10" y="233.60" font-size="10.8" text-anchor="end" font-weight="bold" fill="#000">2.0</text>
<line x1="288.90" y1="209.55" x2="293.40" y2="209.55" stroke="#000" stroke-width="1.6"/>
<text x="288.10" y="214.15" font-size="10.8" text-anchor="end" font-weight="bold" fill="#000">2.5</text>
<line x1="309.30" y1="306.80" x2="309.30" y2="311.30" stroke="#000" stroke-width="1.6"/>
<line x1="342.50" y1="306.80" x2="342.50" y2="311.30" stroke="#000" stroke-width="1.6"/>
<text x="309.30" y="322.80" font-size="10.5" text-anchor="middle" font-weight="bold" fill="#000">Pre</text>
<text x="342.50" y="322.80" font-size="10.5" text-anchor="middle" font-weight="bold" fill="#000">Post</text>
<text x="267.50" y="255.38" font-size="10.8" text-anchor="middle" font-weight="bold" fill="#000" transform="rotate(-90 267.5 255.375)">Velocity (µm/min)</text>
<text x="516.50" y="172.60" font-size="10.5" text-anchor="start" font-weight="bold" fill="#000">H</text>
<text x="584.00" y="194.60" font-size="10.8" font-weight="bold" text-anchor="middle">MDA<tspan font-size="7.60" dy="-5.00">PAR</tspan><tspan dy="5.00"> + AMA</tspan></text>
<line x1="568.00" y1="221.35" x2="600.00" y2="284.55" stroke="#2a2a2a" stroke-width="0.7"/>
<line x1="568.00" y1="268.97" x2="600.00" y2="292.97" stroke="#2a2a2a" stroke-width="0.7"/>
<line x1="568.00" y1="255.38" x2="600.00" y2="250.14" stroke="#eeaa48" stroke-width="0.85"/>
<line x1="568.00" y1="281.56" x2="600.00" y2="271.09" stroke="#eeaa48" stroke-width="0.85"/>
<line x1="568.00" y1="264.16" x2="600.00" y2="297.58" stroke="#2a2a2a" stroke-width="0.7"/>
<line x1="568.00" y1="279.57" x2="600.00" y2="284.91" stroke="#2a2a2a" stroke-width="0.7"/>
<line x1="568.00" y1="277.82" x2="600.00" y2="246.03" stroke="#eeaa48" stroke-width="0.85"/>
<line x1="568.00" y1="250.34" x2="600.00" y2="288.37" stroke="#2a2a2a" stroke-width="0.7"/>
<line x1="568.00" y1="259.57" x2="600.00" y2="271.09" stroke="#2a2a2a" stroke-width="0.7"/>
<line x1="568.00" y1="294.65" x2="600.00" y2="246.78" stroke="#eeaa48" stroke-width="0.85"/>
<line x1="568.00" y1="285.98" x2="600.00" y2="272.24" stroke="#eeaa48" stroke-width="0.85"/>
<line x1="568.00" y1="261.04" x2="600.00" y2="299.89" stroke="#2a2a2a" stroke-width="0.7"/>
<line x1="568.00" y1="251.65" x2="600.00" y2="289.52" stroke="#2a2a2a" stroke-width="0.7"/>
<line x1="568.00" y1="265.72" x2="600.00" y2="296.43" stroke="#2a2a2a" stroke-width="0.7"/>
<line x1="568.00" y1="276.57" x2="600.00" y2="279.15" stroke="#2a2a2a" stroke-width="0.7"/>
<line x1="568.00" y1="273.60" x2="600.00" y2="278.00" stroke="#2a2a2a" stroke-width="0.7"/>
<line x1="568.00" y1="290.54" x2="600.00" y2="275.41" stroke="#eeaa48" stroke-width="0.85"/>
<line x1="568.00" y1="281.34" x2="600.00" y2="283.76" stroke="#2a2a2a" stroke-width="0.7"/>
<line x1="568.00" y1="271.66" x2="600.00" y2="281.46" stroke="#2a2a2a" stroke-width="0.7"/>
<line x1="568.00" y1="256.23" x2="600.00" y2="291.82" stroke="#2a2a2a" stroke-width="0.7"/>
<line x1="568.00" y1="248.80" x2="600.00" y2="290.67" stroke="#2a2a2a" stroke-width="0.7"/>
<line x1="568.00" y1="285.30" x2="600.00" y2="269.59" stroke="#eeaa48" stroke-width="0.85"/>
<line x1="568.00" y1="270.60" x2="600.00" y2="282.61" stroke="#2a2a2a" stroke-width="0.7"/>
<line x1="568.00" y1="247.01" x2="600.00" y2="287.21" stroke="#2a2a2a" stroke-width="0.7"/>
<line x1="568.00" y1="253.51" x2="600.00" y2="248.27" stroke="#eeaa48" stroke-width="0.85"/>
<line x1="568.00" y1="290.91" x2="600.00" y2="260.24" stroke="#eeaa48" stroke-width="0.85"/>
<line x1="568.00" y1="278.24" x2="600.00" y2="273.39" stroke="#eeaa48" stroke-width="0.85"/>
<line x1="568.00" y1="258.29" x2="600.00" y2="286.06" stroke="#2a2a2a" stroke-width="0.7"/>
<line x1="568.00" y1="292.78" x2="600.00" y2="244.91" stroke="#eeaa48" stroke-width="0.85"/>
<line x1="568.00" y1="274.80" x2="600.00" y2="276.85" stroke="#2a2a2a" stroke-width="0.7"/>
<line x1="568.00" y1="299.14" x2="600.00" y2="279.54" stroke="#eeaa48" stroke-width="0.85"/>
<line x1="568.00" y1="283.77" x2="600.00" y2="274.54" stroke="#eeaa48" stroke-width="0.85"/>
<line x1="568.00" y1="295.77" x2="600.00" y2="284.78" stroke="#eeaa48" stroke-width="0.85"/>
<line x1="568.00" y1="299.89" x2="600.00" y2="282.33" stroke="#eeaa48" stroke-width="0.85"/>
<line x1="568.00" y1="298.02" x2="600.00" y2="288.83" stroke="#eeaa48" stroke-width="0.85"/>
<line x1="568.00" y1="282.26" x2="600.00" y2="280.30" stroke="#eeaa48" stroke-width="0.85"/>
<line x1="568.00" y1="293.53" x2="600.00" y2="280.61" stroke="#eeaa48" stroke-width="0.85"/>
<line x1="568.00" y1="252.96" x2="600.00" y2="295.28" stroke="#2a2a2a" stroke-width="0.7"/>
<line x1="568.00" y1="272.21" x2="600.00" y2="229.57" stroke="#eeaa48" stroke-width="0.85"/>
<line x1="568.00" y1="262.49" x2="600.00" y2="298.73" stroke="#2a2a2a" stroke-width="0.7"/>
<line x1="568.00" y1="266.95" x2="600.00" y2="294.13" stroke="#2a2a2a" stroke-width="0.7"/>
<line x1="568.00" y1="247.15" x2="600.00" y2="213.12" stroke="#eeaa48" stroke-width="0.85"/>
<line x1="568.00" y1="283.43" x2="600.00" y2="272.21" stroke="#eeaa48" stroke-width="0.85"/>
<line x1="568.00" y1="254.51" x2="600.00" y2="275.70" stroke="#2a2a2a" stroke-width="0.7"/>
<circle cx="568.00" cy="221.35" r="1.4" fill="#f0a032" stroke="#0a0600" stroke-width="0.75"/>
<circle cx="600.00" cy="284.55" r="1.4" fill="#f0a032" stroke="#0a0600" stroke-width="0.75"/>
<circle cx="568.00" cy="268.97" r="1.4" fill="#f0a032" stroke="#0a0600" stroke-width="0.75"/>
<circle cx="600.00" cy="292.97" r="1.4" fill="#f0a032" stroke="#0a0600" stroke-width="0.75"/>
<circle cx="568.00" cy="255.38" r="1.4" fill="#f0a032" stroke="#0a0600" stroke-width="0.75"/>
<circle cx="600.00" cy="250.14" r="1.4" fill="#f0a032" stroke="#0a0600" stroke-width="0.75"/>
<circle cx="568.00" cy="281.56" r="1.4" fill="#f0a032" stroke="#0a0600" stroke-width="0.75"/>
<circle cx="600.00" cy="271.09" r="1.4" fill="#f0a032" stroke="#0a0600" stroke-width="0.75"/>
<circle cx="568.00" cy="264.16" r="1.4" fill="#f0a032" stroke="#0a0600" stroke-width="0.75"/>
<circle cx="600.00" cy="297.58" r="1.4" fill="#f0a032" stroke="#0a0600" stroke-width="0.75"/>
<circle cx="568.00" cy="279.57" r="1.4" fill="#f0a032" stroke="#0a0600" stroke-width="0.75"/>
<circle cx="600.00" cy="284.91" r="1.4" fill="#f0a032" stroke="#0a0600" stroke-width="0.75"/>
<circle cx="568.00" cy="277.82" r="1.4" fill="#f0a032" stroke="#0a0600" stroke-width="0.75"/>
<circle cx="600.00" cy="246.03" r="1.4" fill="#f0a032" stroke="#0a0600" stroke-width="0.75"/>
<circle cx="568.00" cy="250.34" r="1.4" fill="#f0a032" stroke="#0a0600" stroke-width="0.75"/>
<circle cx="600.00" cy="288.37" r="1.4" fill="#f0a032" stroke="#0a0600" stroke-width="0.75"/>
<circle cx="568.00" cy="259.57" r="1.4" fill="#f0a032" stroke="#0a0600" stroke-width="0.75"/>
<circle cx="600.00" cy="271.09" r="1.4" fill="#f0a032" stroke="#0a0600" stroke-width="0.75"/>
<circle cx="568.00" cy="294.65" r="1.4" fill="#f0a032" stroke="#0a0600" stroke-width="0.75"/>
<circle cx="600.00" cy="246.78" r="1.4" fill="#f0a032" stroke="#0a0600" stroke-width="0.75"/>
<circle cx="568.00" cy="285.98" r="1.4" fill="#f0a032" stroke="#0a0600" stroke-width="0.75"/>
<circle cx="600.00" cy="272.24" r="1.4" fill="#f0a032" stroke="#0a0600" stroke-width="0.75"/>
<circle cx="568.00" cy="261.04" r="1.4" fill="#f0a032" stroke="#0a0600" stroke-width="0.75"/>
<circle cx="600.00" cy="299.89" r="1.4" fill="#f0a032" stroke="#0a0600" stroke-width="0.75"/>
<circle cx="568.00" cy="251.65" r="1.4" fill="#f0a032" stroke="#0a0600" stroke-width="0.75"/>
<circle cx="600.00" cy="289.52" r="1.4" fill="#f0a032" stroke="#0a0600" stroke-width="0.75"/>
<circle cx="568.00" cy="265.72" r="1.4" fill="#f0a032" stroke="#0a0600" stroke-width="0.75"/>
<circle cx="600.00" cy="296.43" r="1.4" fill="#f0a032" stroke="#0a0600" stroke-width="0.75"/>
<circle cx="568.00" cy="276.57" r="1.4" fill="#f0a032" stroke="#0a0600" stroke-width="0.75"/>
<circle cx="600.00" cy="279.15" r="1.4" fill="#f0a032" stroke="#0a0600" stroke-width="0.75"/>
<circle cx="568.00" cy="273.60" r="1.4" fill="#f0a032" stroke="#0a0600" stroke-width="0.75"/>
<circle cx="600.00" cy="278.00" r="1.4" fill="#f0a032" stroke="#0a0600" stroke-width="0.75"/>
<circle cx="568.00" cy="290.54" r="1.4" fill="#f0a032" stroke="#0a0600" stroke-width="0.75"/>
<circle cx="600.00" cy="275.41" r="1.4" fill="#f0a032" stroke="#0a0600" stroke-width="0.75"/>
<circle cx="568.00" cy="281.34" r="1.4" fill="#f0a032" stroke="#0a0600" stroke-width="0.75"/>
<circle cx="600.00" cy="283.76" r="1.4" fill="#f0a032" stroke="#0a0600" stroke-width="0.75"/>
<circle cx="568.00" cy="271.66" r="1.4" fill="#f0a032" stroke="#0a0600" stroke-width="0.75"/>
<circle cx="600.00" cy="281.46" r="1.4" fill="#f0a032" stroke="#0a0600" stroke-width="0.75"/>
<circle cx="568.00" cy="256.23" r="1.4" fill="#f0a032" stroke="#0a0600" stroke-width="0.75"/>
<circle cx="600.00" cy="291.82" r="1.4" fill="#f0a032" stroke="#0a0600" stroke-width="0.75"/>
<circle cx="568.00" cy="248.80" r="1.4" fill="#f0a032" stroke="#0a0600" stroke-width="0.75"/>
<circle cx="600.00" cy="290.67" r="1.4" fill="#f0a032" stroke="#0a0600" stroke-width="0.75"/>
<circle cx="568.00" cy="285.30" r="1.4" fill="#f0a032" stroke="#0a0600" stroke-width="0.75"/>
<circle cx="600.00" cy="269.59" r="1.4" fill="#f0a032" stroke="#0a0600" stroke-width="0.75"/>
<circle cx="568.00" cy="270.60" r="1.4" fill="#f0a032" stroke="#0a0600" stroke-width="0.75"/>
<circle cx="600.00" cy="282.61" r="1.4" fill="#f0a032" stroke="#0a0600" stroke-width="0.75"/>
<circle cx="568.00" cy="247.01" r="1.4" fill="#f0a032" stroke="#0a0600" stroke-width="0.75"/>
<circle cx="600.00" cy="287.21" r="1.4" fill="#f0a032" stroke="#0a0600" stroke-width="0.75"/>
<circle cx="568.00" cy="253.51" r="1.4" fill="#f0a032" stroke="#0a0600" stroke-width="0.75"/>
<circle cx="600.00" cy="248.27" r="1.4" fill="#f0a032" stroke="#0a0600" stroke-width="0.75"/>
<circle cx="568.00" cy="290.91" r="1.4" fill="#f0a032" stroke="#0a0600" stroke-width="0.75"/>
<circle cx="600.00" cy="260.24" r="1.4" fill="#f0a032" stroke="#0a0600" stroke-width="0.75"/>
<circle cx="568.00" cy="278.24" r="1.4" fill="#f0a032" stroke="#0a0600" stroke-width="0.75"/>
<circle cx="600.00" cy="273.39" r="1.4" fill="#f0a032" stroke="#0a0600" stroke-width="0.75"/>
<circle cx="568.00" cy="258.29" r="1.4" fill="#f0a032" stroke="#0a0600" stroke-width="0.75"/>
<circle cx="600.00" cy="286.06" r="1.4" fill="#f0a032" stroke="#0a0600" stroke-width="0.75"/>
<circle cx="568.00" cy="292.78" r="1.4" fill="#f0a032" stroke="#0a0600" stroke-width="0.75"/>
<circle cx="600.00" cy="244.91" r="1.4" fill="#f0a032" stroke="#0a0600" stroke-width="0.75"/>
<circle cx="568.00" cy="274.80" r="1.4" fill="#f0a032" stroke="#0a0600" stroke-width="0.75"/>
<circle cx="600.00" cy="276.85" r="1.4" fill="#f0a032" stroke="#0a0600" stroke-width="0.75"/>
<circle cx="568.00" cy="299.14" r="1.4" fill="#f0a032" stroke="#0a0600" stroke-width="0.75"/>
<circle cx="600.00" cy="279.54" r="1.4" fill="#f0a032" stroke="#0a0600" stroke-width="0.75"/>
<circle cx="568.00" cy="283.77" r="1.4" fill="#f0a032" stroke="#0a0600" stroke-width="0.75"/>
<circle cx="600.00" cy="274.54" r="1.4" fill="#f0a032" stroke="#0a0600" stroke-width="0.75"/>
<circle cx="568.00" cy="295.77" r="1.4" fill="#f0a032" stroke="#0a0600" stroke-width="0.75"/>
<circle cx="600.00" cy="284.78" r="1.4" fill="#f0a032" stroke="#0a0600" stroke-width="0.75"/>
<circle cx="568.00" cy="299.89" r="1.4" fill="#f0a032" stroke="#0a0600" stroke-width="0.75"/>
<circle cx="600.00" cy="282.33" r="1.4" fill="#f0a032" stroke="#0a0600" stroke-width="0.75"/>
<circle cx="568.00" cy="298.02" r="1.4" fill="#f0a032" stroke="#0a0600" stroke-width="0.75"/>
<circle cx="600.00" cy="288.83" r="1.4" fill="#f0a032" stroke="#0a0600" stroke-width="0.75"/>
<circle cx="568.00" cy="282.26" r="1.4" fill="#f0a032" stroke="#0a0600" stroke-width="0.75"/>
<circle cx="600.00" cy="280.30" r="1.4" fill="#f0a032" stroke="#0a0600" stroke-width="0.75"/>
<circle cx="568.00" cy="293.53" r="1.4" fill="#f0a032" stroke="#0a0600" stroke-width="0.75"/>
<circle cx="600.00" cy="280.61" r="1.4" fill="#f0a032" stroke="#0a0600" stroke-width="0.75"/>
<circle cx="568.00" cy="252.96" r="1.4" fill="#f0a032" stroke="#0a0600" stroke-width="0.75"/>
<circle cx="600.00" cy="295.28" r="1.4" fill="#f0a032" stroke="#0a0600" stroke-width="0.75"/>
<circle cx="568.00" cy="272.21" r="1.4" fill="#f0a032" stroke="#0a0600" stroke-width="0.75"/>
<circle cx="600.00" cy="229.57" r="1.4" fill="#f0a032" stroke="#0a0600" stroke-width="0.75"/>
<circle cx="568.00" cy="262.49" r="1.4" fill="#f0a032" stroke="#0a0600" stroke-width="0.75"/>
<circle cx="600.00" cy="298.73" r="1.4" fill="#f0a032" stroke="#0a0600" stroke-width="0.75"/>
<circle cx="568.00" cy="266.95" r="1.4" fill="#f0a032" stroke="#0a0600" stroke-width="0.75"/>
<circle cx="600.00" cy="294.13" r="1.4" fill="#f0a032" stroke="#0a0600" stroke-width="0.75"/>
<circle cx="568.00" cy="247.15" r="1.4" fill="#f0a032" stroke="#0a0600" stroke-width="0.75"/>
<circle cx="600.00" cy="213.12" r="1.4" fill="#f0a032" stroke="#0a0600" stroke-width="0.75"/>
<circle cx="568.00" cy="283.43" r="1.4" fill="#f0a032" stroke="#0a0600" stroke-width="0.75"/>
<circle cx="600.00" cy="272.21" r="1.4" fill="#f0a032" stroke="#0a0600" stroke-width="0.75"/>
<circle cx="568.00" cy="254.51" r="1.4" fill="#f0a032" stroke="#0a0600" stroke-width="0.75"/>
<circle cx="600.00" cy="275.70" r="1.4" fill="#f0a032" stroke="#0a0600" stroke-width="0.75"/>
<line x1="552.60" y1="304.90" x2="552.60" y2="209.60" stroke="#000" stroke-width="1.8"/>
<line x1="548.10" y1="304.00" x2="616.60" y2="304.00" stroke="#000" stroke-width="1.8"/>
<line x1="548.10" y1="304.00" x2="552.60" y2="304.00" stroke="#000" stroke-width="1.6"/>
<text x="547.30" y="308.30" font-size="10.0" text-anchor="end" font-weight="bold" fill="#000">0.0</text>
<line x1="548.10" y1="285.30" x2="552.60" y2="285.30" stroke="#000" stroke-width="1.6"/>
<text x="547.30" y="289.60" font-size="10.0" text-anchor="end" font-weight="bold" fill="#000">0.5</text>
<line x1="548.10" y1="266.60" x2="552.60" y2="266.60" stroke="#000" stroke-width="1.6"/>
<text x="547.30" y="270.90" font-size="10.0" text-anchor="end" font-weight="bold" fill="#000">1.0</text>
<line x1="548.10" y1="247.90" x2="552.60" y2="247.90" stroke="#000" stroke-width="1.6"/>
<text x="547.30" y="252.20" font-size="10.0" text-anchor="end" font-weight="bold" fill="#000">1.5</text>
<line x1="548.10" y1="229.20" x2="552.60" y2="229.20" stroke="#000" stroke-width="1.6"/>
<text x="547.30" y="233.50" font-size="10.0" text-anchor="end" font-weight="bold" fill="#000">2.0</text>
<line x1="548.10" y1="210.50" x2="552.60" y2="210.50" stroke="#000" stroke-width="1.6"/>
<text x="547.30" y="214.80" font-size="10.0" text-anchor="end" font-weight="bold" fill="#000">2.5</text>
<line x1="568.00" y1="304.00" x2="568.00" y2="308.50" stroke="#000" stroke-width="1.6"/>
<line x1="600.00" y1="304.00" x2="600.00" y2="308.50" stroke="#000" stroke-width="1.6"/>
<text x="568.00" y="317.80" font-size="9.3" text-anchor="middle" font-weight="bold" fill="#000">Pre</text>
<text x="600.00" y="317.80" font-size="9.3" text-anchor="middle" font-weight="bold" fill="#000">Post</text>
<text x="529.40" y="255.45" font-size="10.4" text-anchor="middle" font-weight="bold" fill="#000" transform="rotate(-90 529.4 255.45)">Velocity (µm/min)</text>
<text x="123.20" y="172.80" font-size="10.5" text-anchor="start" font-weight="bold" fill="#000">E</text>
<text x="192.90" y="192.10" font-size="10.2" font-weight="bold" text-anchor="middle">MDA<tspan font-size="7.20" dy="-5.60">PAR</tspan><tspan dy="5.60"> + IA</tspan></text>
<rect x="172.30" y="290.40" width="16.20" height="4.55" fill="#c9d8f6" stroke="#000" stroke-width="1.2"/>
<line x1="180.40" y1="294.95" x2="180.40" y2="300.41" stroke="#000" stroke-width="1.1"/>
<line x1="177.80" y1="300.41" x2="183.00" y2="300.41" stroke="#000" stroke-width="1.1"/>
<rect x="198.30" y="290.40" width="16.20" height="15.47" fill="#5d80ee" stroke="#000" stroke-width="1.2"/>
<line x1="206.40" y1="305.87" x2="206.40" y2="306.78" stroke="#000" stroke-width="1.1"/>
<line x1="203.80" y1="306.78" x2="209.00" y2="306.78" stroke="#000" stroke-width="1.1"/>
<circle cx="180.40" cy="255.09" r="1.0" fill="#000"/>
<circle cx="180.40" cy="278.57" r="1.0" fill="#000"/>
<circle cx="176.40" cy="298.41" r="1.0" fill="#000"/>
<circle cx="184.00" cy="297.68" r="1.0" fill="#000"/>
<circle cx="176.40" cy="300.59" r="1.0" fill="#000"/>
<circle cx="180.40" cy="302.78" r="1.0" fill="#000"/>
<circle cx="176.40" cy="303.69" r="1.0" fill="#000"/>
<circle cx="184.00" cy="304.41" r="1.0" fill="#000"/>
<circle cx="180.40" cy="305.51" r="1.0" fill="#000"/>
<circle cx="180.40" cy="307.69" r="1.0" fill="#000"/>
<circle cx="206.40" cy="286.03" r="1.0" fill="#000"/>
<circle cx="206.40" cy="301.32" r="1.0" fill="#000"/>
<circle cx="205.40" cy="303.14" r="1.0" fill="#000"/>
<circle cx="207.40" cy="304.05" r="1.0" fill="#000"/>
<circle cx="203.40" cy="304.96" r="1.0" fill="#000"/>
<circle cx="209.40" cy="304.96" r="1.0" fill="#000"/>
<circle cx="201.40" cy="305.87" r="1.0" fill="#000"/>
<circle cx="211.40" cy="305.87" r="1.0" fill="#000"/>
<circle cx="204.40" cy="306.78" r="1.0" fill="#000"/>
<circle cx="208.40" cy="306.78" r="1.0" fill="#000"/>
<circle cx="206.40" cy="307.14" r="1.0" fill="#000"/>
<circle cx="202.40" cy="307.33" r="1.0" fill="#000"/>
<circle cx="210.40" cy="307.33" r="1.0" fill="#000"/>
<circle cx="200.40" cy="306.78" r="1.0" fill="#000"/>
<circle cx="212.40" cy="306.78" r="1.0" fill="#000"/>
<line x1="163.60" y1="309.50" x2="163.60" y2="216.70" stroke="#000" stroke-width="1.8"/>
<line x1="159.60" y1="290.40" x2="224.50" y2="290.40" stroke="#000" stroke-width="1.8"/>
<line x1="159.60" y1="308.60" x2="224.50" y2="308.60" stroke="#000" stroke-width="1.8"/>
<line x1="159.60" y1="308.60" x2="163.60" y2="308.60" stroke="#000" stroke-width="1.6"/>
<text x="158.60" y="313.30" font-size="10.4" text-anchor="end" font-weight="bold" fill="#000">-1</text>
<line x1="159.60" y1="290.40" x2="163.60" y2="290.40" stroke="#000" stroke-width="1.6"/>
<text x="158.60" y="295.10" font-size="10.4" text-anchor="end" font-weight="bold" fill="#000">0</text>
<line x1="159.60" y1="272.20" x2="163.60" y2="272.20" stroke="#000" stroke-width="1.6"/>
<text x="158.60" y="276.90" font-size="10.4" text-anchor="end" font-weight="bold" fill="#000">1</text>
<line x1="159.60" y1="254.00" x2="163.60" y2="254.00" stroke="#000" stroke-width="1.6"/>
<text x="158.60" y="258.70" font-size="10.4" text-anchor="end" font-weight="bold" fill="#000">2</text>
<line x1="159.60" y1="235.80" x2="163.60" y2="235.80" stroke="#000" stroke-width="1.6"/>
<text x="158.60" y="240.50" font-size="10.4" text-anchor="end" font-weight="bold" fill="#000">3</text>
<line x1="159.60" y1="217.60" x2="163.60" y2="217.60" stroke="#000" stroke-width="1.6"/>
<text x="158.60" y="222.30" font-size="10.4" text-anchor="end" font-weight="bold" fill="#000">4</text>
<line x1="180.40" y1="308.60" x2="180.40" y2="312.60" stroke="#000" stroke-width="1.6"/>
<line x1="206.40" y1="308.60" x2="206.40" y2="312.60" stroke="#000" stroke-width="1.6"/>
<text x="183.40" y="321.80" font-size="10.2" font-weight="bold" text-anchor="end" transform="rotate(-45 183.40 321.80)">Low</text>
<text x="209.40" y="321.80" font-size="10.2" font-weight="bold" text-anchor="end" transform="rotate(-45 209.40 321.80)">High</text>
<text x="192.90" y="354.00" font-size="9.8" text-anchor="middle" font-weight="bold" fill="#000">Initial Cell</text>
<text x="192.90" y="365.90" font-size="9.8" text-anchor="middle" font-weight="bold" fill="#000">Migration Velocity</text>
<text x="131.60" y="262.20" font-size="9.9" text-anchor="middle" font-weight="bold" fill="#000" transform="rotate(-90 131.6 262.2)">Fold Change in Velocity</text>
<text x="143.60" y="262.20" font-size="9.9" text-anchor="middle" font-weight="bold" fill="#000" transform="rotate(-90 143.6 262.2)">Pre:Post Inhibitor Effect</text>
<polyline points="182.60,244.30 182.60,241.00 208.60,241.00 208.60,244.30" fill="none" stroke="#333" stroke-width="1"/>
<text x="195.60" y="242.80" font-size="13.4" text-anchor="middle" font-weight="bold" fill="#000">***</text>
<text x="383.20" y="172.80" font-size="10.5" text-anchor="start" font-weight="bold" fill="#000">G</text>
<text x="454.20" y="190.70" font-size="10.6" font-weight="bold" text-anchor="middle">MDA<tspan font-size="7.20" dy="-5.60">PAR</tspan><tspan dy="5.60"> + IA + PYR</tspan></text>
<rect x="433.10" y="280.73" width="17.00" height="3.57" fill="#b1b1f2" stroke="#000" stroke-width="1.2"/>
<line x1="441.60" y1="280.73" x2="441.60" y2="276.50" stroke="#000" stroke-width="1.1"/>
<line x1="439.00" y1="276.50" x2="444.20" y2="276.50" stroke="#000" stroke-width="1.1"/>
<rect x="459.90" y="284.30" width="17.00" height="8.08" fill="#4040f0" stroke="#000" stroke-width="1.2"/>
<line x1="468.40" y1="292.38" x2="468.40" y2="295.96" stroke="#000" stroke-width="1.1"/>
<line x1="465.80" y1="295.96" x2="471.00" y2="295.96" stroke="#000" stroke-width="1.1"/>
<circle cx="441.60" cy="238.24" r="1.0" fill="#000"/>
<circle cx="441.60" cy="257.42" r="1.0" fill="#000"/>
<circle cx="437.60" cy="265.50" r="1.0" fill="#000"/>
<circle cx="441.60" cy="265.88" r="1.0" fill="#000"/>
<circle cx="441.60" cy="269.26" r="1.0" fill="#000"/>
<circle cx="441.60" cy="271.89" r="1.0" fill="#000"/>
<circle cx="441.60" cy="274.90" r="1.0" fill="#000"/>
<circle cx="438.60" cy="276.78" r="1.0" fill="#000"/>
<circle cx="444.60" cy="275.84" r="1.0" fill="#000"/>
<circle cx="441.60" cy="278.66" r="1.0" fill="#000"/>
<circle cx="438.60" cy="289.94" r="1.0" fill="#000"/>
<circle cx="444.60" cy="289.94" r="1.0" fill="#000"/>
<circle cx="441.60" cy="290.88" r="1.0" fill="#000"/>
<circle cx="439.60" cy="292.76" r="1.0" fill="#000"/>
<circle cx="441.60" cy="294.64" r="1.0" fill="#000"/>
<circle cx="444.60" cy="295.58" r="1.0" fill="#000"/>
<circle cx="441.60" cy="296.52" r="1.0" fill="#000"/>
<circle cx="439.60" cy="302.16" r="1.0" fill="#000"/>
<circle cx="441.60" cy="301.22" r="1.0" fill="#000"/>
<circle cx="468.40" cy="258.54" r="1.0" fill="#000"/>
<circle cx="468.40" cy="277.91" r="1.0" fill="#000"/>
<circle cx="468.40" cy="293.70" r="1.0" fill="#000"/>
<circle cx="466.40" cy="294.64" r="1.0" fill="#000"/>
<circle cx="470.40" cy="294.64" r="1.0" fill="#000"/>
<circle cx="468.40" cy="295.58" r="1.0" fill="#000"/>
<circle cx="462.40" cy="301.78" r="1.0" fill="#000"/>
<circle cx="465.40" cy="301.78" r="1.0" fill="#000"/>
<circle cx="468.40" cy="301.78" r="1.0" fill="#000"/>
<circle cx="471.40" cy="301.78" r="1.0" fill="#000"/>
<circle cx="474.40" cy="301.78" r="1.0" fill="#000"/>
<circle cx="467.40" cy="300.28" r="1.0" fill="#000"/>
<line x1="423.90" y1="304.00" x2="423.90" y2="208.20" stroke="#000" stroke-width="1.8"/>
<line x1="419.90" y1="284.30" x2="487.00" y2="284.30" stroke="#000" stroke-width="1.8"/>
<line x1="419.90" y1="303.10" x2="487.00" y2="303.10" stroke="#000" stroke-width="1.8"/>
<line x1="419.90" y1="303.10" x2="423.90" y2="303.10" stroke="#000" stroke-width="1.6"/>
<text x="418.90" y="307.80" font-size="10.4" text-anchor="end" font-weight="bold" fill="#000">-1</text>
<line x1="419.90" y1="284.30" x2="423.90" y2="284.30" stroke="#000" stroke-width="1.6"/>
<text x="418.90" y="289.00" font-size="10.4" text-anchor="end" font-weight="bold" fill="#000">0</text>
<line x1="419.90" y1="265.50" x2="423.90" y2="265.50" stroke="#000" stroke-width="1.6"/>
<text x="418.90" y="270.20" font-size="10.4" text-anchor="end" font-weight="bold" fill="#000">1</text>
<line x1="419.90" y1="246.70" x2="423.90" y2="246.70" stroke="#000" stroke-width="1.6"/>
<text x="418.90" y="251.40" font-size="10.4" text-anchor="end" font-weight="bold" fill="#000">2</text>
<line x1="419.90" y1="227.90" x2="423.90" y2="227.90" stroke="#000" stroke-width="1.6"/>
<text x="418.90" y="232.60" font-size="10.4" text-anchor="end" font-weight="bold" fill="#000">3</text>
<line x1="419.90" y1="209.10" x2="423.90" y2="209.10" stroke="#000" stroke-width="1.6"/>
<text x="418.90" y="213.80" font-size="10.4" text-anchor="end" font-weight="bold" fill="#000">4</text>
<line x1="441.60" y1="303.10" x2="441.60" y2="307.10" stroke="#000" stroke-width="1.6"/>
<line x1="468.40" y1="303.10" x2="468.40" y2="307.10" stroke="#000" stroke-width="1.6"/>
<text x="445.60" y="316.70" font-size="10.7" font-weight="bold" text-anchor="end" transform="rotate(-45 445.60 316.70)">Low</text>
<text x="472.40" y="316.70" font-size="10.7" font-weight="bold" text-anchor="end" transform="rotate(-45 472.40 316.70)">High</text>
<text x="454.50" y="351.60" font-size="10.1" text-anchor="middle" font-weight="bold" fill="#000">Initial Cell</text>
<text x="454.50" y="363.00" font-size="10.1" text-anchor="middle" font-weight="bold" fill="#000">Migration Velocity</text>
<text x="391.00" y="254.90" font-size="10.3" text-anchor="middle" font-weight="bold" fill="#000" transform="rotate(-90 391.0 254.9)">Fold Change in Velocity</text>
<text x="403.40" y="254.90" font-size="10.3" text-anchor="middle" font-weight="bold" fill="#000" transform="rotate(-90 403.4 254.9)">Pre:Post Inhibitor Effect</text>
<polyline points="441.20,232.80 441.20,229.50 468.60,229.50 468.60,232.80" fill="none" stroke="#333" stroke-width="1"/>
<text x="454.90" y="231.30" font-size="13.4" text-anchor="middle" font-weight="bold" fill="#000">*</text>
<text x="629.50" y="172.80" font-size="10.5" text-anchor="start" font-weight="bold" fill="#000">I</text>
<text x="703.40" y="192.80" font-size="10.6" font-weight="bold" text-anchor="middle">MDA<tspan font-size="7.20" dy="-5.60">PAR</tspan><tspan dy="5.60"> + AMA</tspan></text>
<rect x="682.75" y="273.30" width="16.50" height="13.10" fill="#f7dfba" stroke="#000" stroke-width="1.2"/>
<line x1="691.00" y1="273.30" x2="691.00" y2="266.56" stroke="#000" stroke-width="1.1"/>
<line x1="688.40" y1="266.56" x2="693.60" y2="266.56" stroke="#000" stroke-width="1.1"/>
<rect x="708.55" y="286.40" width="16.50" height="2.18" fill="#f5dab0" stroke="#000" stroke-width="1.2"/>
<line x1="716.80" y1="288.58" x2="716.80" y2="290.95" stroke="#000" stroke-width="1.1"/>
<line x1="714.20" y1="290.95" x2="719.40" y2="290.95" stroke="#000" stroke-width="1.1"/>
<line x1="709.90" y1="287.31" x2="723.60" y2="287.31" stroke="#e09030" stroke-width="1.0" stroke-dasharray="3,1.5"/>
<circle cx="691.00" cy="223.61" r="1.0" fill="#000"/>
<circle cx="691.00" cy="244.36" r="1.0" fill="#000"/>
<circle cx="691.00" cy="246.00" r="1.0" fill="#000"/>
<circle cx="691.00" cy="278.76" r="1.0" fill="#000"/>
<circle cx="691.00" cy="282.03" r="1.0" fill="#000"/>
<circle cx="689.00" cy="285.49" r="1.0" fill="#000"/>
<circle cx="693.00" cy="285.49" r="1.0" fill="#000"/>
<circle cx="691.00" cy="290.59" r="1.0" fill="#000"/>
<circle cx="691.00" cy="297.87" r="1.0" fill="#000"/>
<circle cx="711.80" cy="275.48" r="1.0" fill="#000"/>
<circle cx="715.80" cy="275.12" r="1.0" fill="#000"/>
<circle cx="717.80" cy="276.39" r="1.0" fill="#000"/>
<circle cx="719.80" cy="277.30" r="1.0" fill="#000"/>
<circle cx="715.80" cy="262.19" r="1.0" fill="#000"/>
<circle cx="718.80" cy="261.83" r="1.0" fill="#000"/>
<circle cx="716.80" cy="283.67" r="1.0" fill="#000"/>
<circle cx="712.80" cy="293.68" r="1.0" fill="#000"/>
<circle cx="712.80" cy="296.41" r="1.0" fill="#000"/>
<circle cx="712.80" cy="299.14" r="1.0" fill="#000"/>
<circle cx="712.80" cy="301.87" r="1.0" fill="#000"/>
<circle cx="716.80" cy="294.59" r="1.0" fill="#000"/>
<circle cx="716.80" cy="297.32" r="1.0" fill="#000"/>
<circle cx="719.80" cy="295.50" r="1.0" fill="#000"/>
<circle cx="719.80" cy="299.14" r="1.0" fill="#000"/>
<circle cx="722.80" cy="294.59" r="1.0" fill="#000"/>
<circle cx="722.80" cy="297.32" r="1.0" fill="#000"/>
<circle cx="722.80" cy="300.05" r="1.0" fill="#000"/>
<circle cx="716.80" cy="302.78" r="1.0" fill="#000"/>
<circle cx="719.80" cy="302.78" r="1.0" fill="#000"/>
<circle cx="712.80" cy="304.24" r="1.0" fill="#000"/>
<line x1="673.50" y1="305.50" x2="673.50" y2="212.70" stroke="#000" stroke-width="1.8"/>
<line x1="669.50" y1="286.40" x2="734.50" y2="286.40" stroke="#000" stroke-width="1.8"/>
<line x1="669.50" y1="304.60" x2="734.50" y2="304.60" stroke="#000" stroke-width="1.8"/>
<line x1="669.50" y1="304.60" x2="673.50" y2="304.60" stroke="#000" stroke-width="1.6"/>
<text x="668.50" y="309.30" font-size="10.4" text-anchor="end" font-weight="bold" fill="#000">-1</text>
<line x1="669.50" y1="286.40" x2="673.50" y2="286.40" stroke="#000" stroke-width="1.6"/>
<text x="668.50" y="291.10" font-size="10.4" text-anchor="end" font-weight="bold" fill="#000">0</text>
<line x1="669.50" y1="268.20" x2="673.50" y2="268.20" stroke="#000" stroke-width="1.6"/>
<text x="668.50" y="272.90" font-size="10.4" text-anchor="end" font-weight="bold" fill="#000">1</text>
<line x1="669.50" y1="250.00" x2="673.50" y2="250.00" stroke="#000" stroke-width="1.6"/>
<text x="668.50" y="254.70" font-size="10.4" text-anchor="end" font-weight="bold" fill="#000">2</text>
<line x1="669.50" y1="231.80" x2="673.50" y2="231.80" stroke="#000" stroke-width="1.6"/>
<text x="668.50" y="236.50" font-size="10.4" text-anchor="end" font-weight="bold" fill="#000">3</text>
<line x1="669.50" y1="213.60" x2="673.50" y2="213.60" stroke="#000" stroke-width="1.6"/>
<text x="668.50" y="218.30" font-size="10.4" text-anchor="end" font-weight="bold" fill="#000">4</text>
<line x1="691.00" y1="304.60" x2="691.00" y2="308.60" stroke="#000" stroke-width="1.6"/>
<line x1="716.80" y1="304.60" x2="716.80" y2="308.60" stroke="#000" stroke-width="1.6"/>
<text x="694.00" y="318.00" font-size="10.4" font-weight="bold" text-anchor="end" transform="rotate(-45 694.00 318.00)">Low</text>
<text x="719.80" y="318.00" font-size="10.4" font-weight="bold" text-anchor="end" transform="rotate(-45 719.80 318.00)">High</text>
<text x="703.30" y="351.00" font-size="9.8" text-anchor="middle" font-weight="bold" fill="#000">Initial Cell</text>
<text x="703.30" y="362.00" font-size="9.8" text-anchor="middle" font-weight="bold" fill="#000">Migration Velocity</text>
<text x="641.80" y="257.20" font-size="9.9" text-anchor="middle" font-weight="bold" fill="#000" transform="rotate(-90 641.8 257.2)">Fold Change in Velocity</text>
<text x="653.80" y="257.20" font-size="9.9" text-anchor="middle" font-weight="bold" fill="#000" transform="rotate(-90 653.8 257.2)">Pre:Post Inhibitor Effect</text>
<polyline points="690.50,217.50 690.50,213.50 716.60,213.50 716.60,253.00" fill="none" stroke="#333" stroke-width="1"/>
<text x="703.55" y="215.30" font-size="13.4" text-anchor="middle" font-weight="bold" fill="#000">**</text>
</svg>
</body></html>
